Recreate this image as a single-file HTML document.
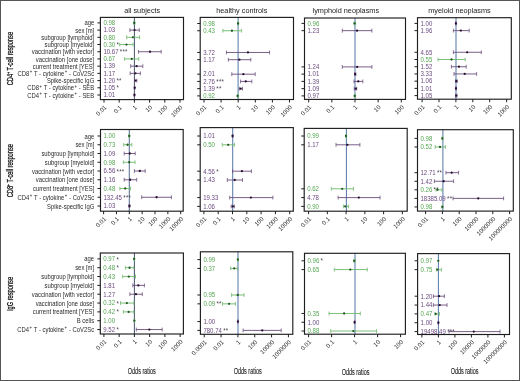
<!DOCTYPE html>
<html><head><meta charset="utf-8"><style>
html,body{margin:0;padding:0;background:#fff;width:520px;height:381px;overflow:hidden}
svg{display:block;will-change:transform}
text{font-family:"Liberation Sans",sans-serif}
</style></head><body>

<svg width="520" height="381" viewBox="0 0 520 381" font-family='"Liberation Sans", sans-serif'>
<rect x="0" y="0" width="520" height="381" fill="#fff"/>
<text x="142.2" y="12.6" font-size="7.3" text-anchor="middle" fill="#222">all subjects</text>
<text x="241.8" y="12.6" font-size="7.3" text-anchor="middle" fill="#222">healthy controls</text>
<text x="345.8" y="12.6" font-size="7.3" text-anchor="middle" fill="#222">lymphoid neoplasms</text>
<text x="459.5" y="12.6" font-size="7.3" text-anchor="middle" fill="#222">myeloid neoplasms</text>
<g transform="translate(12.7,58.6) rotate(-90) scale(0.686,1)"><text x="0" y="0" font-size="8.3" text-anchor="middle" fill="#111" stroke="#111" stroke-width="0.28">CD4<tspan dy="-2.6" font-size="4.6">+</tspan><tspan dy="2.6"> T-cell response</tspan></text></g>
<g transform="translate(12.7,170.7) rotate(-90) scale(0.686,1)"><text x="0" y="0" font-size="8.3" text-anchor="middle" fill="#111" stroke="#111" stroke-width="0.28">CD8<tspan dy="-2.6" font-size="4.6">+</tspan><tspan dy="2.6"> T-cell response</tspan></text></g>
<g transform="translate(12.7,294.0) rotate(-90) scale(0.686,1)"><text x="0" y="0" font-size="8.3" text-anchor="middle" fill="#111" stroke="#111" stroke-width="0.28">IgG response</text></g>
<g transform="translate(141.8,374.3) scale(0.66,1)"><text x="0" y="0" font-size="8.3" text-anchor="middle" fill="#222" stroke="#222" stroke-width="0.12">Odds ratios</text></g>
<g transform="translate(247.7,374.3) scale(0.66,1)"><text x="0" y="0" font-size="8.3" text-anchor="middle" fill="#222" stroke="#222" stroke-width="0.12">Odds ratios</text></g>
<g transform="translate(355.6,375.2) scale(0.66,1)"><text x="0" y="0" font-size="8.3" text-anchor="middle" fill="#222" stroke="#222" stroke-width="0.12">Odds ratios</text></g>
<g transform="translate(464.6,374.3) scale(0.66,1)"><text x="0" y="0" font-size="8.3" text-anchor="middle" fill="#222" stroke="#222" stroke-width="0.12">Odds ratios</text></g>
<line x1="134.4" y1="17.4" x2="134.4" y2="99.6" stroke="#44546c" stroke-width="1.0"/>
<line x1="97.4" y1="22.90" x2="100.4" y2="22.90" stroke="#1e1e1e" stroke-width="1"/>
<g transform="translate(103.40,25.20) scale(0.955,1)"><text x="0" y="0" font-size="6.35" fill="#55a652">0.98</text></g>
<line x1="133.6" y1="22.90" x2="134.8" y2="22.90" stroke="#6cb86a" stroke-width="0.9"/>
<line x1="133.6" y1="21.00" x2="133.6" y2="24.80" stroke="#6cb86a" stroke-width="0.8"/>
<line x1="134.8" y1="21.00" x2="134.8" y2="24.80" stroke="#6cb86a" stroke-width="0.8"/>
<circle cx="134.27" cy="22.90" r="1.15" fill="#245a24"/>
<line x1="97.4" y1="30.11" x2="100.4" y2="30.11" stroke="#1e1e1e" stroke-width="1"/>
<g transform="translate(103.40,32.41) scale(0.955,1)"><text x="0" y="0" font-size="6.35" fill="#6c4a80">1.03</text></g>
<line x1="129.9" y1="30.11" x2="139.3" y2="30.11" stroke="#6a4e7a" stroke-width="0.9"/>
<line x1="129.9" y1="28.21" x2="129.9" y2="32.01" stroke="#6a4e7a" stroke-width="0.8"/>
<line x1="139.3" y1="28.21" x2="139.3" y2="32.01" stroke="#6a4e7a" stroke-width="0.8"/>
<circle cx="134.60" cy="30.11" r="1.15" fill="#2a1030"/>
<line x1="97.4" y1="37.32" x2="100.4" y2="37.32" stroke="#1e1e1e" stroke-width="1"/>
<g transform="translate(103.40,39.62) scale(0.955,1)"><text x="0" y="0" font-size="6.35" fill="#55a652">0.80</text></g>
<line x1="126.7" y1="37.32" x2="139.6" y2="37.32" stroke="#6cb86a" stroke-width="0.9"/>
<line x1="126.7" y1="35.42" x2="126.7" y2="39.22" stroke="#6cb86a" stroke-width="0.8"/>
<line x1="139.6" y1="35.42" x2="139.6" y2="39.22" stroke="#6cb86a" stroke-width="0.8"/>
<circle cx="132.93" cy="37.32" r="1.15" fill="#245a24"/>
<line x1="97.4" y1="44.53" x2="100.4" y2="44.53" stroke="#1e1e1e" stroke-width="1"/>
<g transform="translate(103.40,46.83) scale(0.955,1)"><text x="0" y="0" font-size="6.35" fill="#55a652">0.30<tspan font-size="6.4" dx="1.4" dy="0.3" letter-spacing="0.25" fill="#4a4050">*</tspan></text></g>
<line x1="119.7" y1="44.53" x2="133.1" y2="44.53" stroke="#6cb86a" stroke-width="0.9"/>
<line x1="119.7" y1="42.63" x2="119.7" y2="46.43" stroke="#6cb86a" stroke-width="0.8"/>
<line x1="133.1" y1="42.63" x2="133.1" y2="46.43" stroke="#6cb86a" stroke-width="0.8"/>
<circle cx="126.45" cy="44.53" r="1.15" fill="#245a24"/>
<line x1="97.4" y1="51.74" x2="100.4" y2="51.74" stroke="#1e1e1e" stroke-width="1"/>
<g transform="translate(103.40,54.04) scale(0.955,1)"><text x="0" y="0" font-size="6.35" fill="#6c4a80">10.67<tspan font-size="6.4" dx="1.4" dy="0.3" letter-spacing="0.25" fill="#4a4050">***</tspan></text></g>
<line x1="138.5" y1="51.74" x2="161.2" y2="51.74" stroke="#6a4e7a" stroke-width="0.9"/>
<line x1="138.5" y1="49.84" x2="138.5" y2="53.64" stroke="#6a4e7a" stroke-width="0.8"/>
<line x1="161.2" y1="49.84" x2="161.2" y2="53.64" stroke="#6a4e7a" stroke-width="0.8"/>
<circle cx="150.03" cy="51.74" r="1.15" fill="#2a1030"/>
<line x1="97.4" y1="58.95" x2="100.4" y2="58.95" stroke="#1e1e1e" stroke-width="1"/>
<g transform="translate(103.40,61.25) scale(0.955,1)"><text x="0" y="0" font-size="6.35" fill="#55a652">0.67</text></g>
<line x1="124.6" y1="58.95" x2="138.8" y2="58.95" stroke="#6cb86a" stroke-width="0.9"/>
<line x1="124.6" y1="57.05" x2="124.6" y2="60.85" stroke="#6cb86a" stroke-width="0.8"/>
<line x1="138.8" y1="57.05" x2="138.8" y2="60.85" stroke="#6cb86a" stroke-width="0.8"/>
<circle cx="131.76" cy="58.95" r="1.15" fill="#245a24"/>
<line x1="97.4" y1="66.16" x2="100.4" y2="66.16" stroke="#1e1e1e" stroke-width="1"/>
<g transform="translate(103.40,68.46) scale(0.955,1)"><text x="0" y="0" font-size="6.35" fill="#6c4a80">1.39</text></g>
<line x1="130.7" y1="66.16" x2="142.8" y2="66.16" stroke="#6a4e7a" stroke-width="0.9"/>
<line x1="130.7" y1="64.26" x2="130.7" y2="68.06" stroke="#6a4e7a" stroke-width="0.8"/>
<line x1="142.8" y1="64.26" x2="142.8" y2="68.06" stroke="#6a4e7a" stroke-width="0.8"/>
<circle cx="136.57" cy="66.16" r="1.15" fill="#2a1030"/>
<line x1="97.4" y1="73.37" x2="100.4" y2="73.37" stroke="#1e1e1e" stroke-width="1"/>
<g transform="translate(103.40,75.67) scale(0.955,1)"><text x="0" y="0" font-size="6.35" fill="#6c4a80">1.17</text></g>
<line x1="130.2" y1="73.37" x2="140.4" y2="73.37" stroke="#6a4e7a" stroke-width="0.9"/>
<line x1="130.2" y1="71.47" x2="130.2" y2="75.27" stroke="#6a4e7a" stroke-width="0.8"/>
<line x1="140.4" y1="71.47" x2="140.4" y2="75.27" stroke="#6a4e7a" stroke-width="0.8"/>
<circle cx="135.44" cy="73.37" r="1.15" fill="#2a1030"/>
<line x1="97.4" y1="80.58" x2="100.4" y2="80.58" stroke="#1e1e1e" stroke-width="1"/>
<g transform="translate(103.40,82.88) scale(0.955,1)"><text x="0" y="0" font-size="6.35" fill="#6c4a80">1.20<tspan font-size="6.4" dx="1.4" dy="0.3" letter-spacing="0.25" fill="#4a4050">**</tspan></text></g>
<line x1="134.7" y1="80.58" x2="136.8" y2="80.58" stroke="#6a4e7a" stroke-width="0.9"/>
<line x1="134.7" y1="78.68" x2="134.7" y2="82.48" stroke="#6a4e7a" stroke-width="0.8"/>
<line x1="136.8" y1="78.68" x2="136.8" y2="82.48" stroke="#6a4e7a" stroke-width="0.8"/>
<circle cx="135.60" cy="80.58" r="1.15" fill="#2a1030"/>
<line x1="97.4" y1="87.79" x2="100.4" y2="87.79" stroke="#1e1e1e" stroke-width="1"/>
<g transform="translate(103.40,90.09) scale(0.955,1)"><text x="0" y="0" font-size="6.35" fill="#6c4a80">1.05<tspan font-size="6.4" dx="1.4" dy="0.3" letter-spacing="0.25" fill="#4a4050">*</tspan></text></g>
<line x1="134.3" y1="87.79" x2="135.0" y2="87.79" stroke="#6a4e7a" stroke-width="0.9"/>
<line x1="134.3" y1="85.89" x2="134.3" y2="89.69" stroke="#6a4e7a" stroke-width="0.8"/>
<line x1="135.0" y1="85.89" x2="135.0" y2="89.69" stroke="#6a4e7a" stroke-width="0.8"/>
<circle cx="134.72" cy="87.79" r="1.15" fill="#2a1030"/>
<line x1="97.4" y1="95.00" x2="100.4" y2="95.00" stroke="#1e1e1e" stroke-width="1"/>
<g transform="translate(103.40,97.30) scale(0.955,1)"><text x="0" y="0" font-size="6.35" fill="#6c4a80">1.01</text></g>
<line x1="134.2" y1="95.00" x2="134.7" y2="95.00" stroke="#6a4e7a" stroke-width="0.9"/>
<line x1="134.2" y1="93.10" x2="134.2" y2="96.90" stroke="#6a4e7a" stroke-width="0.8"/>
<line x1="134.7" y1="93.10" x2="134.7" y2="96.90" stroke="#6a4e7a" stroke-width="0.8"/>
<circle cx="134.47" cy="95.00" r="1.15" fill="#2a1030"/>
<g transform="translate(94.20,25.45) scale(0.935,1)"><text x="0" y="0" font-size="6.3" text-anchor="end" fill="#2a2a2a">age</text></g>
<g transform="translate(94.20,32.66) scale(0.935,1)"><text x="0" y="0" font-size="6.3" text-anchor="end" fill="#2a2a2a">sex [m]</text></g>
<g transform="translate(94.20,39.87) scale(0.935,1)"><text x="0" y="0" font-size="6.3" text-anchor="end" fill="#2a2a2a">subgroup [lymphoid]</text></g>
<g transform="translate(94.20,47.08) scale(0.935,1)"><text x="0" y="0" font-size="6.3" text-anchor="end" fill="#2a2a2a">subgroup [myeloid]</text></g>
<g transform="translate(94.20,54.29) scale(0.935,1)"><text x="0" y="0" font-size="6.3" text-anchor="end" fill="#2a2a2a">vaccination [with vector]</text></g>
<g transform="translate(94.20,61.50) scale(0.935,1)"><text x="0" y="0" font-size="6.3" text-anchor="end" fill="#2a2a2a">vaccination [one dose]</text></g>
<g transform="translate(94.20,68.71) scale(0.935,1)"><text x="0" y="0" font-size="6.3" text-anchor="end" fill="#2a2a2a">current treatment [YES]</text></g>
<g transform="translate(94.20,75.92) scale(0.935,1)"><text x="0" y="0" font-size="6.3" text-anchor="end" fill="#2a2a2a">CD8<tspan dx="0.5" dy="-2.7" font-size="4.6">+</tspan><tspan dx="0.3" dy="2.7"> T - cytokine</tspan><tspan dx="0.5" dy="-2.7" font-size="4.6">+</tspan><tspan dx="0.3" dy="2.7"> - CoV2Sc</tspan></text></g>
<g transform="translate(94.20,83.13) scale(0.935,1)"><text x="0" y="0" font-size="6.3" text-anchor="end" fill="#2a2a2a">Spike-specific IgG</text></g>
<g transform="translate(94.20,90.34) scale(0.935,1)"><text x="0" y="0" font-size="6.3" text-anchor="end" fill="#2a2a2a">CD8<tspan dx="0.5" dy="-2.7" font-size="4.6">+</tspan><tspan dx="0.3" dy="2.7"> T - cytokine</tspan><tspan dx="0.5" dy="-2.7" font-size="4.6">+</tspan><tspan dx="0.3" dy="2.7"> - SEB</tspan></text></g>
<g transform="translate(94.20,97.55) scale(0.935,1)"><text x="0" y="0" font-size="6.3" text-anchor="end" fill="#2a2a2a">CD4<tspan dx="0.5" dy="-2.7" font-size="4.6">+</tspan><tspan dx="0.3" dy="2.7"> T - cytokine</tspan><tspan dx="0.5" dy="-2.7" font-size="4.6">+</tspan><tspan dx="0.3" dy="2.7"> - SEB</tspan></text></g>
<line x1="104.00" y1="99.6" x2="104.00" y2="102.6" stroke="#1e1e1e" stroke-width="1"/>
<g transform="translate(107.00,107.80) rotate(-45)"><text x="0" y="0" font-size="6.1" text-anchor="end" fill="#262626">0.01</text></g>
<line x1="119.20" y1="99.6" x2="119.20" y2="102.6" stroke="#1e1e1e" stroke-width="1"/>
<g transform="translate(122.20,107.80) rotate(-45)"><text x="0" y="0" font-size="6.1" text-anchor="end" fill="#262626">0.1</text></g>
<line x1="134.40" y1="99.6" x2="134.40" y2="102.6" stroke="#1e1e1e" stroke-width="1"/>
<g transform="translate(137.40,107.80) rotate(-45)"><text x="0" y="0" font-size="6.1" text-anchor="end" fill="#262626">1</text></g>
<line x1="149.60" y1="99.6" x2="149.60" y2="102.6" stroke="#1e1e1e" stroke-width="1"/>
<g transform="translate(152.60,107.80) rotate(-45)"><text x="0" y="0" font-size="6.1" text-anchor="end" fill="#262626">10</text></g>
<line x1="164.80" y1="99.6" x2="164.80" y2="102.6" stroke="#1e1e1e" stroke-width="1"/>
<g transform="translate(167.80,107.80) rotate(-45)"><text x="0" y="0" font-size="6.1" text-anchor="end" fill="#262626">100</text></g>
<line x1="180.00" y1="99.6" x2="180.00" y2="102.6" stroke="#1e1e1e" stroke-width="1"/>
<g transform="translate(183.00,107.80) rotate(-45)"><text x="0" y="0" font-size="6.1" text-anchor="end" fill="#262626">1000</text></g>
<rect x="100.4" y="17.4" width="83.10" height="82.20" fill="none" stroke="#1e1e1e" stroke-width="1.15"/>
<line x1="238.1" y1="17.4" x2="238.1" y2="99.5" stroke="#5a7cab" stroke-width="1.05"/>
<line x1="197.2" y1="23.50" x2="200.2" y2="23.50" stroke="#1e1e1e" stroke-width="1"/>
<g transform="translate(203.20,25.80) scale(0.955,1)"><text x="0" y="0" font-size="6.35" fill="#55a652">0.98</text></g>
<line x1="237.6" y1="23.50" x2="238.6" y2="23.50" stroke="#6cb86a" stroke-width="0.9"/>
<line x1="237.6" y1="21.60" x2="237.6" y2="25.40" stroke="#6cb86a" stroke-width="0.8"/>
<line x1="238.6" y1="21.60" x2="238.6" y2="25.40" stroke="#6cb86a" stroke-width="0.8"/>
<circle cx="238.05" cy="23.50" r="1.15" fill="#245a24"/>
<line x1="197.2" y1="30.74" x2="200.2" y2="30.74" stroke="#1e1e1e" stroke-width="1"/>
<g transform="translate(203.20,33.04) scale(0.955,1)"><text x="0" y="0" font-size="6.35" fill="#55a652">0.43</text></g>
<line x1="222.9" y1="30.74" x2="241.6" y2="30.74" stroke="#6cb86a" stroke-width="0.9"/>
<line x1="222.9" y1="28.84" x2="222.9" y2="32.64" stroke="#6cb86a" stroke-width="0.8"/>
<line x1="241.6" y1="28.84" x2="241.6" y2="32.64" stroke="#6cb86a" stroke-width="0.8"/>
<circle cx="231.93" cy="30.74" r="1.15" fill="#245a24"/>
<line x1="197.2" y1="52.46" x2="200.2" y2="52.46" stroke="#1e1e1e" stroke-width="1"/>
<g transform="translate(203.20,54.76) scale(0.955,1)"><text x="0" y="0" font-size="6.35" fill="#6c4a80">3.72</text></g>
<line x1="226.4" y1="52.46" x2="269.5" y2="52.46" stroke="#6a4e7a" stroke-width="0.9"/>
<line x1="226.4" y1="50.56" x2="226.4" y2="54.36" stroke="#6a4e7a" stroke-width="0.8"/>
<line x1="269.5" y1="50.56" x2="269.5" y2="54.36" stroke="#6a4e7a" stroke-width="0.8"/>
<circle cx="247.96" cy="52.46" r="1.15" fill="#2a1030"/>
<line x1="197.2" y1="59.70" x2="200.2" y2="59.70" stroke="#1e1e1e" stroke-width="1"/>
<g transform="translate(203.20,62.00) scale(0.955,1)"><text x="0" y="0" font-size="6.35" fill="#6c4a80">1.17</text></g>
<line x1="228.3" y1="59.70" x2="250.8" y2="59.70" stroke="#6a4e7a" stroke-width="0.9"/>
<line x1="228.3" y1="57.80" x2="228.3" y2="61.60" stroke="#6a4e7a" stroke-width="0.8"/>
<line x1="250.8" y1="57.80" x2="250.8" y2="61.60" stroke="#6a4e7a" stroke-width="0.8"/>
<circle cx="239.37" cy="59.70" r="1.15" fill="#2a1030"/>
<line x1="197.2" y1="74.18" x2="200.2" y2="74.18" stroke="#1e1e1e" stroke-width="1"/>
<g transform="translate(203.20,76.48) scale(0.955,1)"><text x="0" y="0" font-size="6.35" fill="#6c4a80">2.01</text></g>
<line x1="231.8" y1="74.18" x2="255.2" y2="74.18" stroke="#6a4e7a" stroke-width="0.9"/>
<line x1="231.8" y1="72.28" x2="231.8" y2="76.08" stroke="#6a4e7a" stroke-width="0.8"/>
<line x1="255.2" y1="72.28" x2="255.2" y2="76.08" stroke="#6a4e7a" stroke-width="0.8"/>
<circle cx="243.38" cy="74.18" r="1.15" fill="#2a1030"/>
<line x1="197.2" y1="81.42" x2="200.2" y2="81.42" stroke="#1e1e1e" stroke-width="1"/>
<g transform="translate(203.20,83.72) scale(0.955,1)"><text x="0" y="0" font-size="6.35" fill="#6c4a80">2.76<tspan font-size="6.4" dx="1.4" dy="0.3" letter-spacing="0.25" fill="#4a4050">***</tspan></text></g>
<line x1="240.6" y1="81.42" x2="251.8" y2="81.42" stroke="#6a4e7a" stroke-width="0.9"/>
<line x1="240.6" y1="79.52" x2="240.6" y2="83.32" stroke="#6a4e7a" stroke-width="0.8"/>
<line x1="251.8" y1="79.52" x2="251.8" y2="83.32" stroke="#6a4e7a" stroke-width="0.8"/>
<circle cx="245.74" cy="81.42" r="1.15" fill="#2a1030"/>
<line x1="197.2" y1="88.66" x2="200.2" y2="88.66" stroke="#1e1e1e" stroke-width="1"/>
<g transform="translate(203.20,90.96) scale(0.955,1)"><text x="0" y="0" font-size="6.35" fill="#6c4a80">1.39<tspan font-size="6.4" dx="1.4" dy="0.3" letter-spacing="0.25" fill="#4a4050">**</tspan></text></g>
<line x1="239.3" y1="88.66" x2="242.5" y2="88.66" stroke="#6a4e7a" stroke-width="0.9"/>
<line x1="239.3" y1="86.76" x2="239.3" y2="90.56" stroke="#6a4e7a" stroke-width="0.8"/>
<line x1="242.5" y1="86.76" x2="242.5" y2="90.56" stroke="#6a4e7a" stroke-width="0.8"/>
<circle cx="240.65" cy="88.66" r="1.15" fill="#2a1030"/>
<line x1="197.2" y1="95.90" x2="200.2" y2="95.90" stroke="#1e1e1e" stroke-width="1"/>
<g transform="translate(203.20,98.20) scale(0.955,1)"><text x="0" y="0" font-size="6.35" fill="#55a652">0.92</text></g>
<line x1="237.4" y1="95.90" x2="238.3" y2="95.90" stroke="#6cb86a" stroke-width="0.9"/>
<line x1="237.4" y1="94.00" x2="237.4" y2="97.80" stroke="#6cb86a" stroke-width="0.8"/>
<line x1="238.3" y1="94.00" x2="238.3" y2="97.80" stroke="#6cb86a" stroke-width="0.8"/>
<circle cx="237.58" cy="95.90" r="1.15" fill="#245a24"/>
<line x1="204.00" y1="99.5" x2="204.00" y2="102.5" stroke="#1e1e1e" stroke-width="1"/>
<g transform="translate(207.00,107.70) rotate(-45)"><text x="0" y="0" font-size="6.1" text-anchor="end" fill="#262626">0.01</text></g>
<line x1="221.10" y1="99.5" x2="221.10" y2="102.5" stroke="#1e1e1e" stroke-width="1"/>
<g transform="translate(224.10,107.70) rotate(-45)"><text x="0" y="0" font-size="6.1" text-anchor="end" fill="#262626">0.1</text></g>
<line x1="238.20" y1="99.5" x2="238.20" y2="102.5" stroke="#1e1e1e" stroke-width="1"/>
<g transform="translate(241.20,107.70) rotate(-45)"><text x="0" y="0" font-size="6.1" text-anchor="end" fill="#262626">1</text></g>
<line x1="255.30" y1="99.5" x2="255.30" y2="102.5" stroke="#1e1e1e" stroke-width="1"/>
<g transform="translate(258.30,107.70) rotate(-45)"><text x="0" y="0" font-size="6.1" text-anchor="end" fill="#262626">10</text></g>
<line x1="272.40" y1="99.5" x2="272.40" y2="102.5" stroke="#1e1e1e" stroke-width="1"/>
<g transform="translate(275.40,107.70) rotate(-45)"><text x="0" y="0" font-size="6.1" text-anchor="end" fill="#262626">100</text></g>
<line x1="289.50" y1="99.5" x2="289.50" y2="102.5" stroke="#1e1e1e" stroke-width="1"/>
<g transform="translate(292.50,107.70) rotate(-45)"><text x="0" y="0" font-size="6.1" text-anchor="end" fill="#262626">1000</text></g>
<rect x="200.2" y="17.4" width="93.30" height="82.10" fill="none" stroke="#1e1e1e" stroke-width="1.15"/>
<line x1="355.0" y1="18.0" x2="355.0" y2="99.4" stroke="#5a7cab" stroke-width="1.05"/>
<line x1="301.5" y1="23.40" x2="304.5" y2="23.40" stroke="#1e1e1e" stroke-width="1"/>
<g transform="translate(307.50,25.70) scale(0.955,1)"><text x="0" y="0" font-size="6.35" fill="#55a652">0.96</text></g>
<line x1="354.0" y1="23.40" x2="355.6" y2="23.40" stroke="#6cb86a" stroke-width="0.9"/>
<line x1="354.0" y1="21.50" x2="354.0" y2="25.30" stroke="#6cb86a" stroke-width="0.8"/>
<line x1="355.6" y1="21.50" x2="355.6" y2="25.30" stroke="#6cb86a" stroke-width="0.8"/>
<circle cx="354.59" cy="23.40" r="1.15" fill="#245a24"/>
<line x1="301.5" y1="30.65" x2="304.5" y2="30.65" stroke="#1e1e1e" stroke-width="1"/>
<g transform="translate(307.50,32.95) scale(0.955,1)"><text x="0" y="0" font-size="6.35" fill="#6c4a80">1.23</text></g>
<line x1="342.3" y1="30.65" x2="371.9" y2="30.65" stroke="#6a4e7a" stroke-width="0.9"/>
<line x1="342.3" y1="28.75" x2="342.3" y2="32.55" stroke="#6a4e7a" stroke-width="0.8"/>
<line x1="371.9" y1="28.75" x2="371.9" y2="32.55" stroke="#6a4e7a" stroke-width="0.8"/>
<circle cx="357.08" cy="30.65" r="1.15" fill="#2a1030"/>
<line x1="301.5" y1="66.90" x2="304.5" y2="66.90" stroke="#1e1e1e" stroke-width="1"/>
<g transform="translate(307.50,69.20) scale(0.955,1)"><text x="0" y="0" font-size="6.35" fill="#6c4a80">1.24</text></g>
<line x1="342.3" y1="66.90" x2="371.9" y2="66.90" stroke="#6a4e7a" stroke-width="0.9"/>
<line x1="342.3" y1="65.00" x2="342.3" y2="68.80" stroke="#6a4e7a" stroke-width="0.8"/>
<line x1="371.9" y1="65.00" x2="371.9" y2="68.80" stroke="#6a4e7a" stroke-width="0.8"/>
<circle cx="357.16" cy="66.90" r="1.15" fill="#2a1030"/>
<line x1="301.5" y1="74.15" x2="304.5" y2="74.15" stroke="#1e1e1e" stroke-width="1"/>
<g transform="translate(307.50,76.45) scale(0.955,1)"><text x="0" y="0" font-size="6.35" fill="#6c4a80">1.01</text></g>
<line x1="354.6" y1="74.15" x2="355.8" y2="74.15" stroke="#6a4e7a" stroke-width="0.9"/>
<line x1="354.6" y1="72.25" x2="354.6" y2="76.05" stroke="#6a4e7a" stroke-width="0.8"/>
<line x1="355.8" y1="72.25" x2="355.8" y2="76.05" stroke="#6a4e7a" stroke-width="0.8"/>
<circle cx="355.10" cy="74.15" r="1.15" fill="#2a1030"/>
<line x1="301.5" y1="81.40" x2="304.5" y2="81.40" stroke="#1e1e1e" stroke-width="1"/>
<g transform="translate(307.50,83.70) scale(0.955,1)"><text x="0" y="0" font-size="6.35" fill="#6c4a80">1.39</text></g>
<line x1="354.0" y1="81.40" x2="362.8" y2="81.40" stroke="#6a4e7a" stroke-width="0.9"/>
<line x1="354.0" y1="79.50" x2="354.0" y2="83.30" stroke="#6a4e7a" stroke-width="0.8"/>
<line x1="362.8" y1="79.50" x2="362.8" y2="83.30" stroke="#6a4e7a" stroke-width="0.8"/>
<circle cx="358.31" cy="81.40" r="1.15" fill="#2a1030"/>
<line x1="301.5" y1="88.65" x2="304.5" y2="88.65" stroke="#1e1e1e" stroke-width="1"/>
<g transform="translate(307.50,90.95) scale(0.955,1)"><text x="0" y="0" font-size="6.35" fill="#6c4a80">1.09</text></g>
<line x1="354.3" y1="88.65" x2="356.7" y2="88.65" stroke="#6a4e7a" stroke-width="0.9"/>
<line x1="354.3" y1="86.75" x2="354.3" y2="90.55" stroke="#6a4e7a" stroke-width="0.8"/>
<line x1="356.7" y1="86.75" x2="356.7" y2="90.55" stroke="#6a4e7a" stroke-width="0.8"/>
<circle cx="355.87" cy="88.65" r="1.15" fill="#2a1030"/>
<line x1="301.5" y1="95.90" x2="304.5" y2="95.90" stroke="#1e1e1e" stroke-width="1"/>
<g transform="translate(307.50,98.20) scale(0.955,1)"><text x="0" y="0" font-size="6.35" fill="#6c4a80">0.97</text></g>
<line x1="354.4" y1="95.90" x2="355.6" y2="95.90" stroke="#6cb86a" stroke-width="0.9"/>
<line x1="354.4" y1="94.00" x2="354.4" y2="97.80" stroke="#6cb86a" stroke-width="0.8"/>
<line x1="355.6" y1="94.00" x2="355.6" y2="97.80" stroke="#6cb86a" stroke-width="0.8"/>
<circle cx="354.69" cy="95.90" r="1.15" fill="#245a24"/>
<line x1="308.70" y1="99.4" x2="308.70" y2="102.4" stroke="#1e1e1e" stroke-width="1"/>
<g transform="translate(311.70,107.60) rotate(-45)"><text x="0" y="0" font-size="6.1" text-anchor="end" fill="#262626">0.01</text></g>
<line x1="331.85" y1="99.4" x2="331.85" y2="102.4" stroke="#1e1e1e" stroke-width="1"/>
<g transform="translate(334.85,107.60) rotate(-45)"><text x="0" y="0" font-size="6.1" text-anchor="end" fill="#262626">0.1</text></g>
<line x1="355.00" y1="99.4" x2="355.00" y2="102.4" stroke="#1e1e1e" stroke-width="1"/>
<g transform="translate(358.00,107.60) rotate(-45)"><text x="0" y="0" font-size="6.1" text-anchor="end" fill="#262626">1</text></g>
<line x1="378.15" y1="99.4" x2="378.15" y2="102.4" stroke="#1e1e1e" stroke-width="1"/>
<g transform="translate(381.15,107.60) rotate(-45)"><text x="0" y="0" font-size="6.1" text-anchor="end" fill="#262626">10</text></g>
<line x1="401.30" y1="99.4" x2="401.30" y2="102.4" stroke="#1e1e1e" stroke-width="1"/>
<g transform="translate(404.30,107.60) rotate(-45)"><text x="0" y="0" font-size="6.1" text-anchor="end" fill="#262626">100</text></g>
<rect x="304.5" y="18.0" width="101.00" height="81.40" fill="none" stroke="#1e1e1e" stroke-width="1.15"/>
<line x1="456.0" y1="17.7" x2="456.0" y2="99.2" stroke="#5a7cab" stroke-width="1.05"/>
<line x1="414.5" y1="23.40" x2="417.5" y2="23.40" stroke="#1e1e1e" stroke-width="1"/>
<g transform="translate(420.50,25.70) scale(0.955,1)"><text x="0" y="0" font-size="6.35" fill="#6c4a80">1.00</text></g>
<line x1="455.6" y1="23.40" x2="456.2" y2="23.40" stroke="#6a4e7a" stroke-width="0.9"/>
<line x1="455.6" y1="21.50" x2="455.6" y2="25.30" stroke="#6a4e7a" stroke-width="0.8"/>
<line x1="456.2" y1="21.50" x2="456.2" y2="25.30" stroke="#6a4e7a" stroke-width="0.8"/>
<circle cx="455.90" cy="23.40" r="1.15" fill="#2a1030"/>
<line x1="414.5" y1="30.62" x2="417.5" y2="30.62" stroke="#1e1e1e" stroke-width="1"/>
<g transform="translate(420.50,32.92) scale(0.955,1)"><text x="0" y="0" font-size="6.35" fill="#6c4a80">1.96</text></g>
<line x1="453.4" y1="30.62" x2="469.2" y2="30.62" stroke="#6a4e7a" stroke-width="0.9"/>
<line x1="453.4" y1="28.72" x2="453.4" y2="32.52" stroke="#6a4e7a" stroke-width="0.8"/>
<line x1="469.2" y1="28.72" x2="469.2" y2="32.52" stroke="#6a4e7a" stroke-width="0.8"/>
<circle cx="460.84" cy="30.62" r="1.15" fill="#2a1030"/>
<line x1="414.5" y1="52.28" x2="417.5" y2="52.28" stroke="#1e1e1e" stroke-width="1"/>
<g transform="translate(420.50,54.58) scale(0.955,1)"><text x="0" y="0" font-size="6.35" fill="#6c4a80">4.65</text></g>
<line x1="453.4" y1="52.28" x2="481.3" y2="52.28" stroke="#6a4e7a" stroke-width="0.9"/>
<line x1="453.4" y1="50.38" x2="453.4" y2="54.18" stroke="#6a4e7a" stroke-width="0.8"/>
<line x1="481.3" y1="50.38" x2="481.3" y2="54.18" stroke="#6a4e7a" stroke-width="0.8"/>
<circle cx="467.18" cy="52.28" r="1.15" fill="#2a1030"/>
<line x1="414.5" y1="59.50" x2="417.5" y2="59.50" stroke="#1e1e1e" stroke-width="1"/>
<g transform="translate(420.50,61.80) scale(0.955,1)"><text x="0" y="0" font-size="6.35" fill="#55a652">0.55</text></g>
<line x1="438.0" y1="59.50" x2="465.2" y2="59.50" stroke="#6cb86a" stroke-width="0.9"/>
<line x1="438.0" y1="57.60" x2="438.0" y2="61.40" stroke="#6cb86a" stroke-width="0.8"/>
<line x1="465.2" y1="57.60" x2="465.2" y2="61.40" stroke="#6cb86a" stroke-width="0.8"/>
<circle cx="451.51" cy="59.50" r="1.15" fill="#245a24"/>
<line x1="414.5" y1="66.72" x2="417.5" y2="66.72" stroke="#1e1e1e" stroke-width="1"/>
<g transform="translate(420.50,69.02) scale(0.955,1)"><text x="0" y="0" font-size="6.35" fill="#6c4a80">1.52</text></g>
<line x1="451.4" y1="66.72" x2="466.2" y2="66.72" stroke="#6a4e7a" stroke-width="0.9"/>
<line x1="451.4" y1="64.82" x2="451.4" y2="68.62" stroke="#6a4e7a" stroke-width="0.8"/>
<line x1="466.2" y1="64.82" x2="466.2" y2="68.62" stroke="#6a4e7a" stroke-width="0.8"/>
<circle cx="458.97" cy="66.72" r="1.15" fill="#2a1030"/>
<line x1="414.5" y1="73.94" x2="417.5" y2="73.94" stroke="#1e1e1e" stroke-width="1"/>
<g transform="translate(420.50,76.24) scale(0.955,1)"><text x="0" y="0" font-size="6.35" fill="#6c4a80">3.33</text></g>
<line x1="454.0" y1="73.94" x2="476.6" y2="73.94" stroke="#6a4e7a" stroke-width="0.9"/>
<line x1="454.0" y1="72.04" x2="454.0" y2="75.84" stroke="#6a4e7a" stroke-width="0.8"/>
<line x1="476.6" y1="72.04" x2="476.6" y2="75.84" stroke="#6a4e7a" stroke-width="0.8"/>
<circle cx="464.73" cy="73.94" r="1.15" fill="#2a1030"/>
<line x1="414.5" y1="81.16" x2="417.5" y2="81.16" stroke="#1e1e1e" stroke-width="1"/>
<g transform="translate(420.50,83.46) scale(0.955,1)"><text x="0" y="0" font-size="6.35" fill="#6c4a80">1.06</text></g>
<line x1="455.6" y1="81.16" x2="457.2" y2="81.16" stroke="#6a4e7a" stroke-width="0.9"/>
<line x1="455.6" y1="79.26" x2="455.6" y2="83.06" stroke="#6a4e7a" stroke-width="0.8"/>
<line x1="457.2" y1="79.26" x2="457.2" y2="83.06" stroke="#6a4e7a" stroke-width="0.8"/>
<circle cx="456.33" cy="81.16" r="1.15" fill="#2a1030"/>
<line x1="414.5" y1="88.38" x2="417.5" y2="88.38" stroke="#1e1e1e" stroke-width="1"/>
<g transform="translate(420.50,90.68) scale(0.955,1)"><text x="0" y="0" font-size="6.35" fill="#6c4a80">1.01</text></g>
<line x1="455.6" y1="88.38" x2="456.4" y2="88.38" stroke="#6a4e7a" stroke-width="0.9"/>
<line x1="455.6" y1="86.48" x2="455.6" y2="90.28" stroke="#6a4e7a" stroke-width="0.8"/>
<line x1="456.4" y1="86.48" x2="456.4" y2="90.28" stroke="#6a4e7a" stroke-width="0.8"/>
<circle cx="455.97" cy="88.38" r="1.15" fill="#2a1030"/>
<line x1="414.5" y1="95.60" x2="417.5" y2="95.60" stroke="#1e1e1e" stroke-width="1"/>
<g transform="translate(420.50,97.90) scale(0.955,1)"><text x="0" y="0" font-size="6.35" fill="#6c4a80">1.05</text></g>
<line x1="455.5" y1="95.60" x2="457.0" y2="95.60" stroke="#6a4e7a" stroke-width="0.9"/>
<line x1="455.5" y1="93.70" x2="455.5" y2="97.50" stroke="#6a4e7a" stroke-width="0.8"/>
<line x1="457.0" y1="93.70" x2="457.0" y2="97.50" stroke="#6a4e7a" stroke-width="0.8"/>
<circle cx="456.26" cy="95.60" r="1.15" fill="#2a1030"/>
<line x1="422.10" y1="99.2" x2="422.10" y2="102.2" stroke="#1e1e1e" stroke-width="1"/>
<g transform="translate(425.10,107.40) rotate(-45)"><text x="0" y="0" font-size="6.1" text-anchor="end" fill="#262626">0.01</text></g>
<line x1="439.00" y1="99.2" x2="439.00" y2="102.2" stroke="#1e1e1e" stroke-width="1"/>
<g transform="translate(442.00,107.40) rotate(-45)"><text x="0" y="0" font-size="6.1" text-anchor="end" fill="#262626">0.1</text></g>
<line x1="455.90" y1="99.2" x2="455.90" y2="102.2" stroke="#1e1e1e" stroke-width="1"/>
<g transform="translate(458.90,107.40) rotate(-45)"><text x="0" y="0" font-size="6.1" text-anchor="end" fill="#262626">1</text></g>
<line x1="472.80" y1="99.2" x2="472.80" y2="102.2" stroke="#1e1e1e" stroke-width="1"/>
<g transform="translate(475.80,107.40) rotate(-45)"><text x="0" y="0" font-size="6.1" text-anchor="end" fill="#262626">10</text></g>
<line x1="489.70" y1="99.2" x2="489.70" y2="102.2" stroke="#1e1e1e" stroke-width="1"/>
<g transform="translate(492.70,107.40) rotate(-45)"><text x="0" y="0" font-size="6.1" text-anchor="end" fill="#262626">100</text></g>
<line x1="506.60" y1="99.2" x2="506.60" y2="102.2" stroke="#1e1e1e" stroke-width="1"/>
<g transform="translate(509.60,107.40) rotate(-45)"><text x="0" y="0" font-size="6.1" text-anchor="end" fill="#262626">1000</text></g>
<rect x="417.5" y="17.7" width="93.80" height="81.50" fill="none" stroke="#1e1e1e" stroke-width="1.15"/>
<line x1="129.3" y1="129.5" x2="129.3" y2="211.2" stroke="#557392" stroke-width="1.05"/>
<line x1="97.5" y1="136.00" x2="100.5" y2="136.00" stroke="#1e1e1e" stroke-width="1"/>
<g transform="translate(103.50,138.30) scale(0.955,1)"><text x="0" y="0" font-size="6.35" fill="#55a652">1.00</text></g>
<line x1="128.9" y1="136.00" x2="129.6" y2="136.00" stroke="#6cb86a" stroke-width="0.9"/>
<line x1="128.9" y1="134.10" x2="128.9" y2="137.90" stroke="#6cb86a" stroke-width="0.8"/>
<line x1="129.6" y1="134.10" x2="129.6" y2="137.90" stroke="#6cb86a" stroke-width="0.8"/>
<circle cx="129.30" cy="136.00" r="1.15" fill="#245a24"/>
<line x1="97.5" y1="144.75" x2="100.5" y2="144.75" stroke="#1e1e1e" stroke-width="1"/>
<g transform="translate(103.50,147.05) scale(0.955,1)"><text x="0" y="0" font-size="6.35" fill="#55a652">0.73</text></g>
<line x1="123.7" y1="144.75" x2="131.8" y2="144.75" stroke="#6cb86a" stroke-width="0.9"/>
<line x1="123.7" y1="142.85" x2="123.7" y2="146.65" stroke="#6cb86a" stroke-width="0.8"/>
<line x1="131.8" y1="142.85" x2="131.8" y2="146.65" stroke="#6cb86a" stroke-width="0.8"/>
<circle cx="127.54" cy="144.75" r="1.15" fill="#245a24"/>
<line x1="97.5" y1="153.50" x2="100.5" y2="153.50" stroke="#1e1e1e" stroke-width="1"/>
<g transform="translate(103.50,155.80) scale(0.955,1)"><text x="0" y="0" font-size="6.35" fill="#6c4a80">1.09</text></g>
<line x1="124.2" y1="153.50" x2="135.2" y2="153.50" stroke="#6a4e7a" stroke-width="0.9"/>
<line x1="124.2" y1="151.60" x2="124.2" y2="155.40" stroke="#6a4e7a" stroke-width="0.8"/>
<line x1="135.2" y1="151.60" x2="135.2" y2="155.40" stroke="#6a4e7a" stroke-width="0.8"/>
<circle cx="129.78" cy="153.50" r="1.15" fill="#2a1030"/>
<line x1="97.5" y1="162.25" x2="100.5" y2="162.25" stroke="#1e1e1e" stroke-width="1"/>
<g transform="translate(103.50,164.55) scale(0.955,1)"><text x="0" y="0" font-size="6.35" fill="#55a652">0.98</text></g>
<line x1="123.4" y1="162.25" x2="135.0" y2="162.25" stroke="#6cb86a" stroke-width="0.9"/>
<line x1="123.4" y1="160.35" x2="123.4" y2="164.15" stroke="#6cb86a" stroke-width="0.8"/>
<line x1="135.0" y1="160.35" x2="135.0" y2="164.15" stroke="#6cb86a" stroke-width="0.8"/>
<circle cx="129.19" cy="162.25" r="1.15" fill="#245a24"/>
<line x1="97.5" y1="171.00" x2="100.5" y2="171.00" stroke="#1e1e1e" stroke-width="1"/>
<g transform="translate(103.50,173.30) scale(0.955,1)"><text x="0" y="0" font-size="6.35" fill="#6c4a80">6.56<tspan font-size="6.4" dx="1.4" dy="0.3" letter-spacing="0.25" fill="#4a4050">***</tspan></text></g>
<line x1="134.4" y1="171.00" x2="145.2" y2="171.00" stroke="#6a4e7a" stroke-width="0.9"/>
<line x1="134.4" y1="169.10" x2="134.4" y2="172.90" stroke="#6a4e7a" stroke-width="0.8"/>
<line x1="145.2" y1="169.10" x2="145.2" y2="172.90" stroke="#6a4e7a" stroke-width="0.8"/>
<circle cx="139.80" cy="171.00" r="1.15" fill="#2a1030"/>
<line x1="97.5" y1="179.75" x2="100.5" y2="179.75" stroke="#1e1e1e" stroke-width="1"/>
<g transform="translate(103.50,182.05) scale(0.955,1)"><text x="0" y="0" font-size="6.35" fill="#6c4a80">1.16</text></g>
<line x1="124.2" y1="179.75" x2="136.7" y2="179.75" stroke="#6a4e7a" stroke-width="0.9"/>
<line x1="124.2" y1="177.85" x2="124.2" y2="181.65" stroke="#6a4e7a" stroke-width="0.8"/>
<line x1="136.7" y1="177.85" x2="136.7" y2="181.65" stroke="#6a4e7a" stroke-width="0.8"/>
<circle cx="130.13" cy="179.75" r="1.15" fill="#2a1030"/>
<line x1="97.5" y1="188.50" x2="100.5" y2="188.50" stroke="#1e1e1e" stroke-width="1"/>
<g transform="translate(103.50,190.80) scale(0.955,1)"><text x="0" y="0" font-size="6.35" fill="#55a652">0.48</text></g>
<line x1="119.9" y1="188.50" x2="130.4" y2="188.50" stroke="#6cb86a" stroke-width="0.9"/>
<line x1="119.9" y1="186.60" x2="119.9" y2="190.40" stroke="#6cb86a" stroke-width="0.8"/>
<line x1="130.4" y1="186.60" x2="130.4" y2="190.40" stroke="#6cb86a" stroke-width="0.8"/>
<circle cx="125.20" cy="188.50" r="1.15" fill="#245a24"/>
<line x1="97.5" y1="197.25" x2="100.5" y2="197.25" stroke="#1e1e1e" stroke-width="1"/>
<g transform="translate(103.50,199.55) scale(0.955,1)"><text x="0" y="0" font-size="6.35" fill="#6c4a80">132.45<tspan font-size="6.4" dx="1.4" dy="0.3" letter-spacing="0.25" fill="#4a4050">***</tspan></text></g>
<line x1="141.7" y1="197.25" x2="171.4" y2="197.25" stroke="#6a4e7a" stroke-width="0.9"/>
<line x1="141.7" y1="195.35" x2="141.7" y2="199.15" stroke="#6a4e7a" stroke-width="0.8"/>
<line x1="171.4" y1="195.35" x2="171.4" y2="199.15" stroke="#6a4e7a" stroke-width="0.8"/>
<circle cx="156.57" cy="197.25" r="1.15" fill="#2a1030"/>
<line x1="97.5" y1="206.00" x2="100.5" y2="206.00" stroke="#1e1e1e" stroke-width="1"/>
<g transform="translate(103.50,208.30) scale(0.955,1)"><text x="0" y="0" font-size="6.35" fill="#6c4a80">1.03</text></g>
<line x1="129.0" y1="206.00" x2="129.8" y2="206.00" stroke="#6a4e7a" stroke-width="0.9"/>
<line x1="129.0" y1="204.10" x2="129.0" y2="207.90" stroke="#6a4e7a" stroke-width="0.8"/>
<line x1="129.8" y1="204.10" x2="129.8" y2="207.90" stroke="#6a4e7a" stroke-width="0.8"/>
<circle cx="129.46" cy="206.00" r="1.15" fill="#2a1030"/>
<g transform="translate(94.30,138.55) scale(0.935,1)"><text x="0" y="0" font-size="6.3" text-anchor="end" fill="#2a2a2a">age</text></g>
<g transform="translate(94.30,147.30) scale(0.935,1)"><text x="0" y="0" font-size="6.3" text-anchor="end" fill="#2a2a2a">sex [m]</text></g>
<g transform="translate(94.30,156.05) scale(0.935,1)"><text x="0" y="0" font-size="6.3" text-anchor="end" fill="#2a2a2a">subgroup [lymphoid]</text></g>
<g transform="translate(94.30,164.80) scale(0.935,1)"><text x="0" y="0" font-size="6.3" text-anchor="end" fill="#2a2a2a">subgroup [myeloid]</text></g>
<g transform="translate(94.30,173.55) scale(0.935,1)"><text x="0" y="0" font-size="6.3" text-anchor="end" fill="#2a2a2a">vaccination [with vector]</text></g>
<g transform="translate(94.30,182.30) scale(0.935,1)"><text x="0" y="0" font-size="6.3" text-anchor="end" fill="#2a2a2a">vaccination [one dose]</text></g>
<g transform="translate(94.30,191.05) scale(0.935,1)"><text x="0" y="0" font-size="6.3" text-anchor="end" fill="#2a2a2a">current treatment [YES]</text></g>
<g transform="translate(94.30,199.80) scale(0.935,1)"><text x="0" y="0" font-size="6.3" text-anchor="end" fill="#2a2a2a">CD4<tspan dx="0.5" dy="-2.7" font-size="4.6">+</tspan><tspan dx="0.3" dy="2.7"> T - cytokine</tspan><tspan dx="0.5" dy="-2.7" font-size="4.6">+</tspan><tspan dx="0.3" dy="2.7"> - CoV2Sc</tspan></text></g>
<g transform="translate(94.30,208.55) scale(0.935,1)"><text x="0" y="0" font-size="6.3" text-anchor="end" fill="#2a2a2a">Spike-specific IgG</text></g>
<line x1="103.60" y1="211.2" x2="103.60" y2="214.2" stroke="#1e1e1e" stroke-width="1"/>
<g transform="translate(106.60,219.40) rotate(-45)"><text x="0" y="0" font-size="6.1" text-anchor="end" fill="#262626">0.01</text></g>
<line x1="116.45" y1="211.2" x2="116.45" y2="214.2" stroke="#1e1e1e" stroke-width="1"/>
<g transform="translate(119.45,219.40) rotate(-45)"><text x="0" y="0" font-size="6.1" text-anchor="end" fill="#262626">0.1</text></g>
<line x1="129.30" y1="211.2" x2="129.30" y2="214.2" stroke="#1e1e1e" stroke-width="1"/>
<g transform="translate(132.30,219.40) rotate(-45)"><text x="0" y="0" font-size="6.1" text-anchor="end" fill="#262626">1</text></g>
<line x1="142.15" y1="211.2" x2="142.15" y2="214.2" stroke="#1e1e1e" stroke-width="1"/>
<g transform="translate(145.15,219.40) rotate(-45)"><text x="0" y="0" font-size="6.1" text-anchor="end" fill="#262626">10</text></g>
<line x1="155.00" y1="211.2" x2="155.00" y2="214.2" stroke="#1e1e1e" stroke-width="1"/>
<g transform="translate(158.00,219.40) rotate(-45)"><text x="0" y="0" font-size="6.1" text-anchor="end" fill="#262626">100</text></g>
<line x1="167.85" y1="211.2" x2="167.85" y2="214.2" stroke="#1e1e1e" stroke-width="1"/>
<g transform="translate(170.85,219.40) rotate(-45)"><text x="0" y="0" font-size="6.1" text-anchor="end" fill="#262626">1000</text></g>
<line x1="180.70" y1="211.2" x2="180.70" y2="214.2" stroke="#1e1e1e" stroke-width="1"/>
<g transform="translate(183.70,219.40) rotate(-45)"><text x="0" y="0" font-size="6.1" text-anchor="end" fill="#262626">10000</text></g>
<rect x="100.5" y="129.5" width="82.70" height="81.70" fill="none" stroke="#1e1e1e" stroke-width="1.15"/>
<line x1="232.7" y1="127.6" x2="232.7" y2="211.2" stroke="#5a7cab" stroke-width="1.05"/>
<line x1="197.2" y1="136.00" x2="200.2" y2="136.00" stroke="#1e1e1e" stroke-width="1"/>
<g transform="translate(203.20,138.30) scale(0.955,1)"><text x="0" y="0" font-size="6.35" fill="#6c4a80">1.01</text></g>
<line x1="232.3" y1="136.00" x2="232.9" y2="136.00" stroke="#6a4e7a" stroke-width="0.9"/>
<line x1="232.3" y1="134.10" x2="232.3" y2="137.90" stroke="#6a4e7a" stroke-width="0.8"/>
<line x1="232.9" y1="134.10" x2="232.9" y2="137.90" stroke="#6a4e7a" stroke-width="0.8"/>
<circle cx="232.56" cy="136.00" r="1.15" fill="#2a1030"/>
<line x1="197.2" y1="144.80" x2="200.2" y2="144.80" stroke="#1e1e1e" stroke-width="1"/>
<g transform="translate(203.20,147.10) scale(0.955,1)"><text x="0" y="0" font-size="6.35" fill="#55a652">0.50</text></g>
<line x1="222.3" y1="144.80" x2="234.5" y2="144.80" stroke="#6cb86a" stroke-width="0.9"/>
<line x1="222.3" y1="142.90" x2="222.3" y2="146.70" stroke="#6cb86a" stroke-width="0.8"/>
<line x1="234.5" y1="142.90" x2="234.5" y2="146.70" stroke="#6cb86a" stroke-width="0.8"/>
<circle cx="228.20" cy="144.80" r="1.15" fill="#245a24"/>
<line x1="197.2" y1="171.20" x2="200.2" y2="171.20" stroke="#1e1e1e" stroke-width="1"/>
<g transform="translate(203.20,173.50) scale(0.955,1)"><text x="0" y="0" font-size="6.35" fill="#6c4a80">4.56<tspan font-size="6.4" dx="1.4" dy="0.3" letter-spacing="0.25" fill="#4a4050">*</tspan></text></g>
<line x1="232.5" y1="171.20" x2="251.4" y2="171.20" stroke="#6a4e7a" stroke-width="0.9"/>
<line x1="232.5" y1="169.30" x2="232.5" y2="173.10" stroke="#6a4e7a" stroke-width="0.8"/>
<line x1="251.4" y1="169.30" x2="251.4" y2="173.10" stroke="#6a4e7a" stroke-width="0.8"/>
<circle cx="241.92" cy="171.20" r="1.15" fill="#2a1030"/>
<line x1="197.2" y1="180.00" x2="200.2" y2="180.00" stroke="#1e1e1e" stroke-width="1"/>
<g transform="translate(203.20,182.30) scale(0.955,1)"><text x="0" y="0" font-size="6.35" fill="#6c4a80">1.43</text></g>
<line x1="227.3" y1="180.00" x2="242.5" y2="180.00" stroke="#6a4e7a" stroke-width="0.9"/>
<line x1="227.3" y1="178.10" x2="227.3" y2="181.90" stroke="#6a4e7a" stroke-width="0.8"/>
<line x1="242.5" y1="178.10" x2="242.5" y2="181.90" stroke="#6a4e7a" stroke-width="0.8"/>
<circle cx="234.72" cy="180.00" r="1.15" fill="#2a1030"/>
<line x1="197.2" y1="197.60" x2="200.2" y2="197.60" stroke="#1e1e1e" stroke-width="1"/>
<g transform="translate(203.20,199.90) scale(0.955,1)"><text x="0" y="0" font-size="6.35" fill="#6c4a80">19.33</text></g>
<line x1="229.7" y1="197.60" x2="272.9" y2="197.60" stroke="#6a4e7a" stroke-width="0.9"/>
<line x1="229.7" y1="195.70" x2="229.7" y2="199.50" stroke="#6a4e7a" stroke-width="0.8"/>
<line x1="272.9" y1="195.70" x2="272.9" y2="199.50" stroke="#6a4e7a" stroke-width="0.8"/>
<circle cx="250.89" cy="197.60" r="1.15" fill="#2a1030"/>
<line x1="197.2" y1="206.40" x2="200.2" y2="206.40" stroke="#1e1e1e" stroke-width="1"/>
<g transform="translate(203.20,208.70) scale(0.955,1)"><text x="0" y="0" font-size="6.35" fill="#6c4a80">1.06</text></g>
<line x1="231.2" y1="206.40" x2="234.4" y2="206.40" stroke="#6a4e7a" stroke-width="0.9"/>
<line x1="231.2" y1="204.50" x2="231.2" y2="208.30" stroke="#6a4e7a" stroke-width="0.8"/>
<line x1="234.4" y1="204.50" x2="234.4" y2="208.30" stroke="#6a4e7a" stroke-width="0.8"/>
<circle cx="232.86" cy="206.40" r="1.15" fill="#2a1030"/>
<line x1="203.90" y1="211.2" x2="203.90" y2="214.2" stroke="#1e1e1e" stroke-width="1"/>
<g transform="translate(206.90,219.40) rotate(-45)"><text x="0" y="0" font-size="6.1" text-anchor="end" fill="#262626">0.01</text></g>
<line x1="218.20" y1="211.2" x2="218.20" y2="214.2" stroke="#1e1e1e" stroke-width="1"/>
<g transform="translate(221.20,219.40) rotate(-45)"><text x="0" y="0" font-size="6.1" text-anchor="end" fill="#262626">0.1</text></g>
<line x1="232.50" y1="211.2" x2="232.50" y2="214.2" stroke="#1e1e1e" stroke-width="1"/>
<g transform="translate(235.50,219.40) rotate(-45)"><text x="0" y="0" font-size="6.1" text-anchor="end" fill="#262626">1</text></g>
<line x1="246.80" y1="211.2" x2="246.80" y2="214.2" stroke="#1e1e1e" stroke-width="1"/>
<g transform="translate(249.80,219.40) rotate(-45)"><text x="0" y="0" font-size="6.1" text-anchor="end" fill="#262626">10</text></g>
<line x1="261.10" y1="211.2" x2="261.10" y2="214.2" stroke="#1e1e1e" stroke-width="1"/>
<g transform="translate(264.10,219.40) rotate(-45)"><text x="0" y="0" font-size="6.1" text-anchor="end" fill="#262626">100</text></g>
<line x1="275.40" y1="211.2" x2="275.40" y2="214.2" stroke="#1e1e1e" stroke-width="1"/>
<g transform="translate(278.40,219.40) rotate(-45)"><text x="0" y="0" font-size="6.1" text-anchor="end" fill="#262626">1000</text></g>
<line x1="289.70" y1="211.2" x2="289.70" y2="214.2" stroke="#1e1e1e" stroke-width="1"/>
<g transform="translate(292.70,219.40) rotate(-45)"><text x="0" y="0" font-size="6.1" text-anchor="end" fill="#262626">10000</text></g>
<rect x="200.2" y="127.6" width="93.10" height="83.60" fill="none" stroke="#1e1e1e" stroke-width="1.15"/>
<line x1="346.4" y1="128.4" x2="346.4" y2="211.2" stroke="#5a7cab" stroke-width="1.05"/>
<line x1="301.2" y1="136.00" x2="304.2" y2="136.00" stroke="#1e1e1e" stroke-width="1"/>
<g transform="translate(307.20,138.30) scale(0.955,1)"><text x="0" y="0" font-size="6.35" fill="#55a652">0.99</text></g>
<line x1="345.6" y1="136.00" x2="346.4" y2="136.00" stroke="#6cb86a" stroke-width="0.9"/>
<line x1="345.6" y1="134.10" x2="345.6" y2="137.90" stroke="#6cb86a" stroke-width="0.8"/>
<line x1="346.4" y1="134.10" x2="346.4" y2="137.90" stroke="#6cb86a" stroke-width="0.8"/>
<circle cx="346.02" cy="136.00" r="1.15" fill="#245a24"/>
<line x1="301.2" y1="144.80" x2="304.2" y2="144.80" stroke="#1e1e1e" stroke-width="1"/>
<g transform="translate(307.20,147.10) scale(0.955,1)"><text x="0" y="0" font-size="6.35" fill="#6c4a80">1.17</text></g>
<line x1="336.0" y1="144.80" x2="359.9" y2="144.80" stroke="#6a4e7a" stroke-width="0.9"/>
<line x1="336.0" y1="142.90" x2="336.0" y2="146.70" stroke="#6a4e7a" stroke-width="0.8"/>
<line x1="359.9" y1="142.90" x2="359.9" y2="146.70" stroke="#6a4e7a" stroke-width="0.8"/>
<circle cx="347.38" cy="144.80" r="1.15" fill="#2a1030"/>
<line x1="301.2" y1="188.80" x2="304.2" y2="188.80" stroke="#1e1e1e" stroke-width="1"/>
<g transform="translate(307.20,191.10) scale(0.955,1)"><text x="0" y="0" font-size="6.35" fill="#55a652">0.62</text></g>
<line x1="331.3" y1="188.80" x2="353.5" y2="188.80" stroke="#6cb86a" stroke-width="0.9"/>
<line x1="331.3" y1="186.90" x2="331.3" y2="190.70" stroke="#6cb86a" stroke-width="0.8"/>
<line x1="353.5" y1="186.90" x2="353.5" y2="190.70" stroke="#6cb86a" stroke-width="0.8"/>
<circle cx="342.21" cy="188.80" r="1.15" fill="#245a24"/>
<line x1="301.2" y1="197.60" x2="304.2" y2="197.60" stroke="#1e1e1e" stroke-width="1"/>
<g transform="translate(307.20,199.90) scale(0.955,1)"><text x="0" y="0" font-size="6.35" fill="#6c4a80">4.78</text></g>
<line x1="338.1" y1="197.60" x2="380.0" y2="197.60" stroke="#6a4e7a" stroke-width="0.9"/>
<line x1="338.1" y1="195.70" x2="338.1" y2="199.50" stroke="#6a4e7a" stroke-width="0.8"/>
<line x1="380.0" y1="195.70" x2="380.0" y2="199.50" stroke="#6a4e7a" stroke-width="0.8"/>
<circle cx="358.84" cy="197.60" r="1.15" fill="#2a1030"/>
<line x1="301.2" y1="206.40" x2="304.2" y2="206.40" stroke="#1e1e1e" stroke-width="1"/>
<g transform="translate(307.20,208.70) scale(0.955,1)"><text x="0" y="0" font-size="6.35" fill="#55a652">0.90</text></g>
<line x1="343.4" y1="206.40" x2="348.7" y2="206.40" stroke="#6cb86a" stroke-width="0.9"/>
<line x1="343.4" y1="204.50" x2="343.4" y2="208.30" stroke="#6cb86a" stroke-width="0.8"/>
<line x1="348.7" y1="204.50" x2="348.7" y2="208.30" stroke="#6cb86a" stroke-width="0.8"/>
<circle cx="345.24" cy="206.40" r="1.15" fill="#245a24"/>
<line x1="308.60" y1="211.2" x2="308.60" y2="214.2" stroke="#1e1e1e" stroke-width="1"/>
<g transform="translate(311.60,219.40) rotate(-45)"><text x="0" y="0" font-size="6.1" text-anchor="end" fill="#262626">0.01</text></g>
<line x1="327.35" y1="211.2" x2="327.35" y2="214.2" stroke="#1e1e1e" stroke-width="1"/>
<g transform="translate(330.35,219.40) rotate(-45)"><text x="0" y="0" font-size="6.1" text-anchor="end" fill="#262626">0.1</text></g>
<line x1="346.10" y1="211.2" x2="346.10" y2="214.2" stroke="#1e1e1e" stroke-width="1"/>
<g transform="translate(349.10,219.40) rotate(-45)"><text x="0" y="0" font-size="6.1" text-anchor="end" fill="#262626">1</text></g>
<line x1="364.85" y1="211.2" x2="364.85" y2="214.2" stroke="#1e1e1e" stroke-width="1"/>
<g transform="translate(367.85,219.40) rotate(-45)"><text x="0" y="0" font-size="6.1" text-anchor="end" fill="#262626">10</text></g>
<line x1="383.60" y1="211.2" x2="383.60" y2="214.2" stroke="#1e1e1e" stroke-width="1"/>
<g transform="translate(386.60,219.40) rotate(-45)"><text x="0" y="0" font-size="6.1" text-anchor="end" fill="#262626">100</text></g>
<line x1="402.35" y1="211.2" x2="402.35" y2="214.2" stroke="#1e1e1e" stroke-width="1"/>
<g transform="translate(405.35,219.40) rotate(-45)"><text x="0" y="0" font-size="6.1" text-anchor="end" fill="#262626">1000</text></g>
<rect x="304.2" y="128.4" width="103.00" height="82.80" fill="none" stroke="#1e1e1e" stroke-width="1.15"/>
<line x1="442.9" y1="129.7" x2="442.9" y2="211.1" stroke="#5a7cab" stroke-width="1.05"/>
<line x1="414.5" y1="138.40" x2="417.5" y2="138.40" stroke="#1e1e1e" stroke-width="1"/>
<g transform="translate(420.50,140.70) scale(0.955,1)"><text x="0" y="0" font-size="6.35" fill="#55a652">0.98</text></g>
<line x1="442.0" y1="138.40" x2="442.6" y2="138.40" stroke="#6cb86a" stroke-width="0.9"/>
<line x1="442.0" y1="136.50" x2="442.0" y2="140.30" stroke="#6cb86a" stroke-width="0.8"/>
<line x1="442.6" y1="136.50" x2="442.6" y2="140.30" stroke="#6cb86a" stroke-width="0.8"/>
<circle cx="442.33" cy="138.40" r="1.15" fill="#245a24"/>
<line x1="414.5" y1="146.97" x2="417.5" y2="146.97" stroke="#1e1e1e" stroke-width="1"/>
<g transform="translate(420.50,149.27) scale(0.955,1)"><text x="0" y="0" font-size="6.35" fill="#55a652">0.52</text></g>
<line x1="435.2" y1="146.97" x2="445.4" y2="146.97" stroke="#6cb86a" stroke-width="0.9"/>
<line x1="435.2" y1="145.07" x2="435.2" y2="148.87" stroke="#6cb86a" stroke-width="0.8"/>
<line x1="445.4" y1="145.07" x2="445.4" y2="148.87" stroke="#6cb86a" stroke-width="0.8"/>
<circle cx="440.01" cy="146.97" r="1.15" fill="#245a24"/>
<line x1="414.5" y1="172.68" x2="417.5" y2="172.68" stroke="#1e1e1e" stroke-width="1"/>
<g transform="translate(420.50,174.98) scale(0.955,1)"><text x="0" y="0" font-size="6.35" fill="#6c4a80">12.71<tspan font-size="6.4" dx="1.4" dy="0.3" letter-spacing="0.25" fill="#4a4050">**</tspan></text></g>
<line x1="446.0" y1="172.68" x2="458.6" y2="172.68" stroke="#6a4e7a" stroke-width="0.9"/>
<line x1="446.0" y1="170.78" x2="446.0" y2="174.58" stroke="#6a4e7a" stroke-width="0.8"/>
<line x1="458.6" y1="170.78" x2="458.6" y2="174.58" stroke="#6a4e7a" stroke-width="0.8"/>
<circle cx="451.67" cy="172.68" r="1.15" fill="#2a1030"/>
<line x1="414.5" y1="181.25" x2="417.5" y2="181.25" stroke="#1e1e1e" stroke-width="1"/>
<g transform="translate(420.50,183.55) scale(0.955,1)"><text x="0" y="0" font-size="6.35" fill="#6c4a80">1.42</text></g>
<line x1="434.4" y1="181.25" x2="453.6" y2="181.25" stroke="#6a4e7a" stroke-width="0.9"/>
<line x1="434.4" y1="179.35" x2="434.4" y2="183.15" stroke="#6a4e7a" stroke-width="0.8"/>
<line x1="453.6" y1="179.35" x2="453.6" y2="183.15" stroke="#6a4e7a" stroke-width="0.8"/>
<circle cx="443.68" cy="181.25" r="1.15" fill="#2a1030"/>
<line x1="414.5" y1="189.82" x2="417.5" y2="189.82" stroke="#1e1e1e" stroke-width="1"/>
<g transform="translate(420.50,192.12) scale(0.955,1)"><text x="0" y="0" font-size="6.35" fill="#55a652">0.26<tspan font-size="6.4" dx="1.4" dy="0.3" letter-spacing="0.25" fill="#4a4050">**</tspan></text></g>
<line x1="436.0" y1="189.82" x2="442.0" y2="189.82" stroke="#6cb86a" stroke-width="0.9"/>
<line x1="436.0" y1="187.92" x2="436.0" y2="191.72" stroke="#6cb86a" stroke-width="0.8"/>
<line x1="442.0" y1="187.92" x2="442.0" y2="191.72" stroke="#6cb86a" stroke-width="0.8"/>
<circle cx="437.49" cy="189.82" r="1.15" fill="#245a24"/>
<line x1="414.5" y1="198.39" x2="417.5" y2="198.39" stroke="#1e1e1e" stroke-width="1"/>
<g transform="translate(420.50,200.69) scale(0.955,1)"><text x="0" y="0" font-size="6.35" fill="#6c4a80">18385.09<tspan font-size="6.4" dx="1.4" dy="0.3" letter-spacing="0.25" fill="#4a4050">**</tspan></text></g>
<line x1="453.0" y1="198.39" x2="503.6" y2="198.39" stroke="#6a4e7a" stroke-width="0.9"/>
<line x1="453.0" y1="196.49" x2="453.0" y2="200.29" stroke="#6a4e7a" stroke-width="0.8"/>
<line x1="503.6" y1="196.49" x2="503.6" y2="200.29" stroke="#6a4e7a" stroke-width="0.8"/>
<circle cx="478.22" cy="198.39" r="1.15" fill="#2a1030"/>
<line x1="414.5" y1="206.96" x2="417.5" y2="206.96" stroke="#1e1e1e" stroke-width="1"/>
<g transform="translate(420.50,209.26) scale(0.955,1)"><text x="0" y="0" font-size="6.35" fill="#55a652">0.98</text></g>
<line x1="442.0" y1="206.96" x2="442.6" y2="206.96" stroke="#6cb86a" stroke-width="0.9"/>
<line x1="442.0" y1="205.06" x2="442.0" y2="208.86" stroke="#6cb86a" stroke-width="0.8"/>
<line x1="442.6" y1="205.06" x2="442.6" y2="208.86" stroke="#6cb86a" stroke-width="0.8"/>
<circle cx="442.33" cy="206.96" r="1.15" fill="#245a24"/>
<line x1="425.60" y1="211.1" x2="425.60" y2="214.1" stroke="#1e1e1e" stroke-width="1"/>
<g transform="translate(428.60,219.30) rotate(-45)"><text x="0" y="0" font-size="6.1" text-anchor="end" fill="#262626">0.01</text></g>
<line x1="442.40" y1="211.1" x2="442.40" y2="214.1" stroke="#1e1e1e" stroke-width="1"/>
<g transform="translate(445.40,219.30) rotate(-45)"><text x="0" y="0" font-size="6.1" text-anchor="end" fill="#262626">1</text></g>
<line x1="459.20" y1="211.1" x2="459.20" y2="214.1" stroke="#1e1e1e" stroke-width="1"/>
<g transform="translate(462.20,219.30) rotate(-45)"><text x="0" y="0" font-size="6.1" text-anchor="end" fill="#262626">100</text></g>
<line x1="476.00" y1="211.1" x2="476.00" y2="214.1" stroke="#1e1e1e" stroke-width="1"/>
<g transform="translate(479.00,219.30) rotate(-45)"><text x="0" y="0" font-size="6.1" text-anchor="end" fill="#262626">10000</text></g>
<line x1="492.80" y1="211.1" x2="492.80" y2="214.1" stroke="#1e1e1e" stroke-width="1"/>
<g transform="translate(495.80,219.30) rotate(-45)"><text x="0" y="0" font-size="6.1" text-anchor="end" fill="#262626">1000000</text></g>
<line x1="509.60" y1="211.1" x2="509.60" y2="214.1" stroke="#1e1e1e" stroke-width="1"/>
<g transform="translate(512.60,219.30) rotate(-45)"><text x="0" y="0" font-size="6.1" text-anchor="end" fill="#262626">100000000</text></g>
<rect x="417.5" y="129.7" width="95.80" height="81.40" fill="none" stroke="#1e1e1e" stroke-width="1.15"/>
<line x1="134.4" y1="253.0" x2="134.4" y2="334.0" stroke="#44526a" stroke-width="1.0"/>
<line x1="97.3" y1="258.90" x2="100.3" y2="258.90" stroke="#1e1e1e" stroke-width="1"/>
<g transform="translate(103.30,261.20) scale(0.955,1)"><text x="0" y="0" font-size="6.35" fill="#55a652">0.97<tspan font-size="6.4" dx="1.4" dy="0.3" letter-spacing="0.25" fill="#4a4050">*</tspan></text></g>
<line x1="133.9" y1="258.90" x2="134.5" y2="258.90" stroke="#6cb86a" stroke-width="0.9"/>
<line x1="133.9" y1="257.00" x2="133.9" y2="260.80" stroke="#6cb86a" stroke-width="0.8"/>
<line x1="134.5" y1="257.00" x2="134.5" y2="260.80" stroke="#6cb86a" stroke-width="0.8"/>
<circle cx="134.20" cy="258.90" r="1.15" fill="#245a24"/>
<line x1="97.3" y1="267.73" x2="100.3" y2="267.73" stroke="#1e1e1e" stroke-width="1"/>
<g transform="translate(103.30,270.03) scale(0.955,1)"><text x="0" y="0" font-size="6.35" fill="#55a652">0.48<tspan font-size="6.4" dx="1.4" dy="0.3" letter-spacing="0.25" fill="#4a4050">*</tspan></text></g>
<line x1="125.4" y1="267.73" x2="133.9" y2="267.73" stroke="#6cb86a" stroke-width="0.9"/>
<line x1="125.4" y1="265.83" x2="125.4" y2="269.63" stroke="#6cb86a" stroke-width="0.8"/>
<line x1="133.9" y1="265.83" x2="133.9" y2="269.63" stroke="#6cb86a" stroke-width="0.8"/>
<circle cx="129.54" cy="267.73" r="1.15" fill="#245a24"/>
<line x1="97.3" y1="276.56" x2="100.3" y2="276.56" stroke="#1e1e1e" stroke-width="1"/>
<g transform="translate(103.30,278.86) scale(0.955,1)"><text x="0" y="0" font-size="6.35" fill="#55a652">0.43</text></g>
<line x1="122.6" y1="276.56" x2="135.5" y2="276.56" stroke="#6cb86a" stroke-width="0.9"/>
<line x1="122.6" y1="274.66" x2="122.6" y2="278.46" stroke="#6cb86a" stroke-width="0.8"/>
<line x1="135.5" y1="274.66" x2="135.5" y2="278.46" stroke="#6cb86a" stroke-width="0.8"/>
<circle cx="128.81" cy="276.56" r="1.15" fill="#245a24"/>
<line x1="97.3" y1="285.39" x2="100.3" y2="285.39" stroke="#1e1e1e" stroke-width="1"/>
<g transform="translate(103.30,287.69) scale(0.955,1)"><text x="0" y="0" font-size="6.35" fill="#6c4a80">1.81</text></g>
<line x1="132.8" y1="285.39" x2="144.4" y2="285.39" stroke="#6a4e7a" stroke-width="0.9"/>
<line x1="132.8" y1="283.49" x2="132.8" y2="287.29" stroke="#6a4e7a" stroke-width="0.8"/>
<line x1="144.4" y1="283.49" x2="144.4" y2="287.29" stroke="#6a4e7a" stroke-width="0.8"/>
<circle cx="138.33" cy="285.39" r="1.15" fill="#2a1030"/>
<line x1="97.3" y1="294.22" x2="100.3" y2="294.22" stroke="#1e1e1e" stroke-width="1"/>
<g transform="translate(103.30,296.52) scale(0.955,1)"><text x="0" y="0" font-size="6.35" fill="#6c4a80">1.27</text></g>
<line x1="129.9" y1="294.22" x2="142.3" y2="294.22" stroke="#6a4e7a" stroke-width="0.9"/>
<line x1="129.9" y1="292.32" x2="129.9" y2="296.12" stroke="#6a4e7a" stroke-width="0.8"/>
<line x1="142.3" y1="292.32" x2="142.3" y2="296.12" stroke="#6a4e7a" stroke-width="0.8"/>
<circle cx="135.98" cy="294.22" r="1.15" fill="#2a1030"/>
<line x1="97.3" y1="303.05" x2="100.3" y2="303.05" stroke="#1e1e1e" stroke-width="1"/>
<g transform="translate(103.30,305.35) scale(0.955,1)"><text x="0" y="0" font-size="6.35" fill="#55a652">0.32<tspan font-size="6.4" dx="1.4" dy="0.3" letter-spacing="0.25" fill="#4a4050">*</tspan></text></g>
<line x1="120.5" y1="303.05" x2="133.9" y2="303.05" stroke="#6cb86a" stroke-width="0.9"/>
<line x1="120.5" y1="301.15" x2="120.5" y2="304.95" stroke="#6cb86a" stroke-width="0.8"/>
<line x1="133.9" y1="301.15" x2="133.9" y2="304.95" stroke="#6cb86a" stroke-width="0.8"/>
<circle cx="126.85" cy="303.05" r="1.15" fill="#245a24"/>
<line x1="97.3" y1="311.88" x2="100.3" y2="311.88" stroke="#1e1e1e" stroke-width="1"/>
<g transform="translate(103.30,314.18) scale(0.955,1)"><text x="0" y="0" font-size="6.35" fill="#55a652">0.42<tspan font-size="6.4" dx="1.4" dy="0.3" letter-spacing="0.25" fill="#4a4050">*</tspan></text></g>
<line x1="123.4" y1="311.88" x2="133.9" y2="311.88" stroke="#6cb86a" stroke-width="0.9"/>
<line x1="123.4" y1="309.98" x2="123.4" y2="313.78" stroke="#6cb86a" stroke-width="0.8"/>
<line x1="133.9" y1="309.98" x2="133.9" y2="313.78" stroke="#6cb86a" stroke-width="0.8"/>
<circle cx="128.65" cy="311.88" r="1.15" fill="#245a24"/>
<line x1="97.3" y1="320.71" x2="100.3" y2="320.71" stroke="#1e1e1e" stroke-width="1"/>
<g transform="translate(103.30,323.01) scale(0.955,1)"><text x="0" y="0" font-size="6.35" fill="#55a652">1.00</text></g>
<line x1="134.1" y1="320.71" x2="134.6" y2="320.71" stroke="#6cb86a" stroke-width="0.9"/>
<line x1="134.1" y1="318.81" x2="134.1" y2="322.61" stroke="#6cb86a" stroke-width="0.8"/>
<line x1="134.6" y1="318.81" x2="134.6" y2="322.61" stroke="#6cb86a" stroke-width="0.8"/>
<circle cx="134.40" cy="320.71" r="1.15" fill="#245a24"/>
<line x1="97.3" y1="329.54" x2="100.3" y2="329.54" stroke="#1e1e1e" stroke-width="1"/>
<g transform="translate(103.30,331.84) scale(0.955,1)"><text x="0" y="0" font-size="6.35" fill="#6c4a80">9.52<tspan font-size="6.4" dx="1.4" dy="0.3" letter-spacing="0.25" fill="#4a4050">*</tspan></text></g>
<line x1="136.3" y1="329.54" x2="162.2" y2="329.54" stroke="#6a4e7a" stroke-width="0.9"/>
<line x1="136.3" y1="327.64" x2="136.3" y2="331.44" stroke="#6a4e7a" stroke-width="0.8"/>
<line x1="162.2" y1="327.64" x2="162.2" y2="331.44" stroke="#6a4e7a" stroke-width="0.8"/>
<circle cx="149.32" cy="329.54" r="1.15" fill="#2a1030"/>
<g transform="translate(94.10,261.45) scale(0.935,1)"><text x="0" y="0" font-size="6.3" text-anchor="end" fill="#2a2a2a">age</text></g>
<g transform="translate(94.10,270.28) scale(0.935,1)"><text x="0" y="0" font-size="6.3" text-anchor="end" fill="#2a2a2a">sex [m]</text></g>
<g transform="translate(94.10,279.11) scale(0.935,1)"><text x="0" y="0" font-size="6.3" text-anchor="end" fill="#2a2a2a">subgroup [lymphoid]</text></g>
<g transform="translate(94.10,287.94) scale(0.935,1)"><text x="0" y="0" font-size="6.3" text-anchor="end" fill="#2a2a2a">subgroup [myeloid]</text></g>
<g transform="translate(94.10,296.77) scale(0.935,1)"><text x="0" y="0" font-size="6.3" text-anchor="end" fill="#2a2a2a">vaccination [with vector]</text></g>
<g transform="translate(94.10,305.60) scale(0.935,1)"><text x="0" y="0" font-size="6.3" text-anchor="end" fill="#2a2a2a">vaccination [one dose]</text></g>
<g transform="translate(94.10,314.43) scale(0.935,1)"><text x="0" y="0" font-size="6.3" text-anchor="end" fill="#2a2a2a">current treatment [YES]</text></g>
<g transform="translate(94.10,323.26) scale(0.935,1)"><text x="0" y="0" font-size="6.3" text-anchor="end" fill="#2a2a2a">B cells</text></g>
<g transform="translate(94.10,332.09) scale(0.935,1)"><text x="0" y="0" font-size="6.3" text-anchor="end" fill="#2a2a2a">CD4<tspan dx="0.5" dy="-2.7" font-size="4.6">+</tspan><tspan dx="0.3" dy="2.7"> T - cytokine</tspan><tspan dx="0.5" dy="-2.7" font-size="4.6">+</tspan><tspan dx="0.3" dy="2.7"> - CoV2Sc</tspan></text></g>
<line x1="103.90" y1="334.0" x2="103.90" y2="337.0" stroke="#1e1e1e" stroke-width="1"/>
<g transform="translate(106.90,342.20) rotate(-45)"><text x="0" y="0" font-size="6.1" text-anchor="end" fill="#262626">0.01</text></g>
<line x1="119.15" y1="334.0" x2="119.15" y2="337.0" stroke="#1e1e1e" stroke-width="1"/>
<g transform="translate(122.15,342.20) rotate(-45)"><text x="0" y="0" font-size="6.1" text-anchor="end" fill="#262626">0.1</text></g>
<line x1="134.40" y1="334.0" x2="134.40" y2="337.0" stroke="#1e1e1e" stroke-width="1"/>
<g transform="translate(137.40,342.20) rotate(-45)"><text x="0" y="0" font-size="6.1" text-anchor="end" fill="#262626">1</text></g>
<line x1="149.65" y1="334.0" x2="149.65" y2="337.0" stroke="#1e1e1e" stroke-width="1"/>
<g transform="translate(152.65,342.20) rotate(-45)"><text x="0" y="0" font-size="6.1" text-anchor="end" fill="#262626">10</text></g>
<line x1="164.90" y1="334.0" x2="164.90" y2="337.0" stroke="#1e1e1e" stroke-width="1"/>
<g transform="translate(167.90,342.20) rotate(-45)"><text x="0" y="0" font-size="6.1" text-anchor="end" fill="#262626">100</text></g>
<line x1="180.15" y1="334.0" x2="180.15" y2="337.0" stroke="#1e1e1e" stroke-width="1"/>
<g transform="translate(183.15,342.20) rotate(-45)"><text x="0" y="0" font-size="6.1" text-anchor="end" fill="#262626">1000</text></g>
<rect x="100.3" y="253.0" width="83.10" height="81.00" fill="none" stroke="#1e1e1e" stroke-width="1.15"/>
<line x1="238.0" y1="251.8" x2="238.0" y2="334.3" stroke="#5a7cab" stroke-width="1.05"/>
<line x1="197.4" y1="259.60" x2="200.4" y2="259.60" stroke="#1e1e1e" stroke-width="1"/>
<g transform="translate(203.40,261.90) scale(0.955,1)"><text x="0" y="0" font-size="6.35" fill="#55a652">0.99</text></g>
<line x1="237.6" y1="259.60" x2="238.1" y2="259.60" stroke="#6cb86a" stroke-width="0.9"/>
<line x1="237.6" y1="257.70" x2="237.6" y2="261.50" stroke="#6cb86a" stroke-width="0.8"/>
<line x1="238.1" y1="257.70" x2="238.1" y2="261.50" stroke="#6cb86a" stroke-width="0.8"/>
<circle cx="237.86" cy="259.60" r="1.15" fill="#245a24"/>
<line x1="197.4" y1="268.45" x2="200.4" y2="268.45" stroke="#1e1e1e" stroke-width="1"/>
<g transform="translate(203.40,270.75) scale(0.955,1)"><text x="0" y="0" font-size="6.35" fill="#55a652">0.37</text></g>
<line x1="230.6" y1="268.45" x2="237.3" y2="268.45" stroke="#6cb86a" stroke-width="0.9"/>
<line x1="230.6" y1="266.55" x2="230.6" y2="270.35" stroke="#6cb86a" stroke-width="0.8"/>
<line x1="237.3" y1="266.55" x2="237.3" y2="270.35" stroke="#6cb86a" stroke-width="0.8"/>
<circle cx="234.26" cy="268.45" r="1.15" fill="#245a24"/>
<line x1="197.4" y1="295.00" x2="200.4" y2="295.00" stroke="#1e1e1e" stroke-width="1"/>
<g transform="translate(203.40,297.30) scale(0.955,1)"><text x="0" y="0" font-size="6.35" fill="#55a652">0.95</text></g>
<line x1="231.6" y1="295.00" x2="244.0" y2="295.00" stroke="#6cb86a" stroke-width="0.9"/>
<line x1="231.6" y1="293.10" x2="231.6" y2="296.90" stroke="#6cb86a" stroke-width="0.8"/>
<line x1="244.0" y1="293.10" x2="244.0" y2="296.90" stroke="#6cb86a" stroke-width="0.8"/>
<circle cx="237.71" cy="295.00" r="1.15" fill="#245a24"/>
<line x1="197.4" y1="303.85" x2="200.4" y2="303.85" stroke="#1e1e1e" stroke-width="1"/>
<g transform="translate(203.40,306.15) scale(0.955,1)"><text x="0" y="0" font-size="6.35" fill="#55a652">0.09<tspan font-size="6.4" dx="1.4" dy="0.3" letter-spacing="0.25" fill="#4a4050">**</tspan></text></g>
<line x1="222.5" y1="303.85" x2="235.4" y2="303.85" stroke="#6cb86a" stroke-width="0.9"/>
<line x1="222.5" y1="301.95" x2="222.5" y2="305.75" stroke="#6cb86a" stroke-width="0.8"/>
<line x1="235.4" y1="301.95" x2="235.4" y2="305.75" stroke="#6cb86a" stroke-width="0.8"/>
<circle cx="229.09" cy="303.85" r="1.15" fill="#245a24"/>
<line x1="197.4" y1="321.55" x2="200.4" y2="321.55" stroke="#1e1e1e" stroke-width="1"/>
<g transform="translate(203.40,323.85) scale(0.955,1)"><text x="0" y="0" font-size="6.35" fill="#6c4a80">1.00</text></g>
<line x1="237.7" y1="321.55" x2="238.1" y2="321.55" stroke="#6a4e7a" stroke-width="0.9"/>
<line x1="237.7" y1="319.65" x2="237.7" y2="323.45" stroke="#6a4e7a" stroke-width="0.8"/>
<line x1="238.1" y1="319.65" x2="238.1" y2="323.45" stroke="#6a4e7a" stroke-width="0.8"/>
<circle cx="237.90" cy="321.55" r="1.15" fill="#2a1030"/>
<line x1="197.4" y1="330.40" x2="200.4" y2="330.40" stroke="#1e1e1e" stroke-width="1"/>
<g transform="translate(203.40,332.70) scale(0.955,1)"><text x="0" y="0" font-size="6.35" fill="#6c4a80">780.74<tspan font-size="6.4" dx="1.4" dy="0.3" letter-spacing="0.25" fill="#4a4050">**</tspan></text></g>
<line x1="243.1" y1="330.40" x2="281.2" y2="330.40" stroke="#6a4e7a" stroke-width="0.9"/>
<line x1="243.1" y1="328.50" x2="243.1" y2="332.30" stroke="#6a4e7a" stroke-width="0.8"/>
<line x1="281.2" y1="328.50" x2="281.2" y2="332.30" stroke="#6a4e7a" stroke-width="0.8"/>
<circle cx="262.25" cy="330.40" r="1.15" fill="#2a1030"/>
<line x1="204.22" y1="334.3" x2="204.22" y2="337.3" stroke="#1e1e1e" stroke-width="1"/>
<g transform="translate(207.22,342.50) rotate(-45)"><text x="0" y="0" font-size="6.1" text-anchor="end" fill="#262626">0.0001</text></g>
<line x1="221.06" y1="334.3" x2="221.06" y2="337.3" stroke="#1e1e1e" stroke-width="1"/>
<g transform="translate(224.06,342.50) rotate(-45)"><text x="0" y="0" font-size="6.1" text-anchor="end" fill="#262626">0.01</text></g>
<line x1="237.90" y1="334.3" x2="237.90" y2="337.3" stroke="#1e1e1e" stroke-width="1"/>
<g transform="translate(240.90,342.50) rotate(-45)"><text x="0" y="0" font-size="6.1" text-anchor="end" fill="#262626">1</text></g>
<line x1="254.74" y1="334.3" x2="254.74" y2="337.3" stroke="#1e1e1e" stroke-width="1"/>
<g transform="translate(257.74,342.50) rotate(-45)"><text x="0" y="0" font-size="6.1" text-anchor="end" fill="#262626">100</text></g>
<line x1="271.58" y1="334.3" x2="271.58" y2="337.3" stroke="#1e1e1e" stroke-width="1"/>
<g transform="translate(274.58,342.50) rotate(-45)"><text x="0" y="0" font-size="6.1" text-anchor="end" fill="#262626">10000</text></g>
<line x1="288.42" y1="334.3" x2="288.42" y2="337.3" stroke="#1e1e1e" stroke-width="1"/>
<g transform="translate(291.42,342.50) rotate(-45)"><text x="0" y="0" font-size="6.1" text-anchor="end" fill="#262626">1000000</text></g>
<rect x="200.4" y="251.8" width="92.40" height="82.50" fill="none" stroke="#1e1e1e" stroke-width="1.15"/>
<line x1="355.0" y1="253.3" x2="355.0" y2="334.2" stroke="#5a7cab" stroke-width="1.05"/>
<line x1="301.5" y1="260.80" x2="304.5" y2="260.80" stroke="#1e1e1e" stroke-width="1"/>
<g transform="translate(307.50,263.10) scale(0.955,1)"><text x="0" y="0" font-size="6.35" fill="#55a652">0.96<tspan font-size="6.4" dx="1.4" dy="0.3" letter-spacing="0.25" fill="#4a4050">*</tspan></text></g>
<line x1="353.8" y1="260.80" x2="355.0" y2="260.80" stroke="#6cb86a" stroke-width="0.9"/>
<line x1="353.8" y1="258.90" x2="353.8" y2="262.70" stroke="#6cb86a" stroke-width="0.8"/>
<line x1="355.0" y1="258.90" x2="355.0" y2="262.70" stroke="#6cb86a" stroke-width="0.8"/>
<circle cx="354.19" cy="260.80" r="1.15" fill="#245a24"/>
<line x1="301.5" y1="269.58" x2="304.5" y2="269.58" stroke="#1e1e1e" stroke-width="1"/>
<g transform="translate(307.50,271.88) scale(0.955,1)"><text x="0" y="0" font-size="6.35" fill="#55a652">0.65</text></g>
<line x1="334.3" y1="269.58" x2="367.3" y2="269.58" stroke="#6cb86a" stroke-width="0.9"/>
<line x1="334.3" y1="267.68" x2="334.3" y2="271.48" stroke="#6cb86a" stroke-width="0.8"/>
<line x1="367.3" y1="267.68" x2="367.3" y2="271.48" stroke="#6cb86a" stroke-width="0.8"/>
<circle cx="350.30" cy="269.58" r="1.15" fill="#245a24"/>
<line x1="301.5" y1="313.48" x2="304.5" y2="313.48" stroke="#1e1e1e" stroke-width="1"/>
<g transform="translate(307.50,315.78) scale(0.955,1)"><text x="0" y="0" font-size="6.35" fill="#55a652">0.35</text></g>
<line x1="329.0" y1="313.48" x2="360.3" y2="313.48" stroke="#6cb86a" stroke-width="0.9"/>
<line x1="329.0" y1="311.58" x2="329.0" y2="315.38" stroke="#6cb86a" stroke-width="0.8"/>
<line x1="360.3" y1="311.58" x2="360.3" y2="315.38" stroke="#6cb86a" stroke-width="0.8"/>
<circle cx="344.11" cy="313.48" r="1.15" fill="#245a24"/>
<line x1="301.5" y1="322.26" x2="304.5" y2="322.26" stroke="#1e1e1e" stroke-width="1"/>
<g transform="translate(307.50,324.56) scale(0.955,1)"><text x="0" y="0" font-size="6.35" fill="#6c4a80">1.00</text></g>
<line x1="354.4" y1="322.26" x2="354.8" y2="322.26" stroke="#6a4e7a" stroke-width="0.9"/>
<line x1="354.4" y1="320.36" x2="354.4" y2="324.16" stroke="#6a4e7a" stroke-width="0.8"/>
<line x1="354.8" y1="320.36" x2="354.8" y2="324.16" stroke="#6a4e7a" stroke-width="0.8"/>
<circle cx="354.60" cy="322.26" r="1.15" fill="#2a1030"/>
<line x1="301.5" y1="331.04" x2="304.5" y2="331.04" stroke="#1e1e1e" stroke-width="1"/>
<g transform="translate(307.50,333.34) scale(0.955,1)"><text x="0" y="0" font-size="6.35" fill="#55a652">0.88</text></g>
<line x1="330.7" y1="331.04" x2="376.6" y2="331.04" stroke="#6cb86a" stroke-width="0.9"/>
<line x1="330.7" y1="329.14" x2="330.7" y2="332.94" stroke="#6cb86a" stroke-width="0.8"/>
<line x1="376.6" y1="329.14" x2="376.6" y2="332.94" stroke="#6cb86a" stroke-width="0.8"/>
<circle cx="353.32" cy="331.04" r="1.15" fill="#245a24"/>
<line x1="308.60" y1="334.2" x2="308.60" y2="337.2" stroke="#1e1e1e" stroke-width="1"/>
<g transform="translate(311.60,342.40) rotate(-45)"><text x="0" y="0" font-size="6.1" text-anchor="end" fill="#262626">0.01</text></g>
<line x1="331.60" y1="334.2" x2="331.60" y2="337.2" stroke="#1e1e1e" stroke-width="1"/>
<g transform="translate(334.60,342.40) rotate(-45)"><text x="0" y="0" font-size="6.1" text-anchor="end" fill="#262626">0.1</text></g>
<line x1="354.60" y1="334.2" x2="354.60" y2="337.2" stroke="#1e1e1e" stroke-width="1"/>
<g transform="translate(357.60,342.40) rotate(-45)"><text x="0" y="0" font-size="6.1" text-anchor="end" fill="#262626">1</text></g>
<line x1="377.60" y1="334.2" x2="377.60" y2="337.2" stroke="#1e1e1e" stroke-width="1"/>
<g transform="translate(380.60,342.40) rotate(-45)"><text x="0" y="0" font-size="6.1" text-anchor="end" fill="#262626">10</text></g>
<line x1="400.60" y1="334.2" x2="400.60" y2="337.2" stroke="#1e1e1e" stroke-width="1"/>
<g transform="translate(403.60,342.40) rotate(-45)"><text x="0" y="0" font-size="6.1" text-anchor="end" fill="#262626">100</text></g>
<rect x="304.5" y="253.3" width="100.90" height="80.90" fill="none" stroke="#1e1e1e" stroke-width="1.15"/>
<line x1="438.4" y1="253.6" x2="438.4" y2="334.5" stroke="#5a7cab" stroke-width="1.05"/>
<line x1="414.6" y1="260.80" x2="417.6" y2="260.80" stroke="#1e1e1e" stroke-width="1"/>
<g transform="translate(420.60,263.10) scale(0.955,1)"><text x="0" y="0" font-size="6.35" fill="#55a652">0.97</text></g>
<circle cx="438.29" cy="260.80" r="1.15" fill="#245a24"/>
<line x1="414.6" y1="269.65" x2="417.6" y2="269.65" stroke="#1e1e1e" stroke-width="1"/>
<g transform="translate(420.60,271.95) scale(0.955,1)"><text x="0" y="0" font-size="6.35" fill="#55a652">0.75</text></g>
<line x1="436.4" y1="269.65" x2="441.6" y2="269.65" stroke="#6cb86a" stroke-width="0.9"/>
<line x1="436.4" y1="267.75" x2="436.4" y2="271.55" stroke="#6cb86a" stroke-width="0.8"/>
<line x1="441.6" y1="267.75" x2="441.6" y2="271.55" stroke="#6cb86a" stroke-width="0.8"/>
<circle cx="437.37" cy="269.65" r="1.15" fill="#245a24"/>
<line x1="414.6" y1="296.20" x2="417.6" y2="296.20" stroke="#1e1e1e" stroke-width="1"/>
<g transform="translate(420.60,298.50) scale(0.955,1)"><text x="0" y="0" font-size="6.35" fill="#6c4a80">1.20</text></g>
<line x1="433.4" y1="296.20" x2="444.4" y2="296.20" stroke="#6a4e7a" stroke-width="0.9"/>
<line x1="433.4" y1="294.30" x2="433.4" y2="298.10" stroke="#6a4e7a" stroke-width="0.8"/>
<line x1="444.4" y1="294.30" x2="444.4" y2="298.10" stroke="#6a4e7a" stroke-width="0.8"/>
<circle cx="439.05" cy="296.20" r="1.15" fill="#2a1030"/>
<line x1="414.6" y1="305.05" x2="417.6" y2="305.05" stroke="#1e1e1e" stroke-width="1"/>
<g transform="translate(420.60,307.35) scale(0.955,1)"><text x="0" y="0" font-size="6.35" fill="#6c4a80">1.44</text></g>
<line x1="433.4" y1="305.05" x2="447.0" y2="305.05" stroke="#6a4e7a" stroke-width="0.9"/>
<line x1="433.4" y1="303.15" x2="433.4" y2="306.95" stroke="#6a4e7a" stroke-width="0.8"/>
<line x1="447.0" y1="303.15" x2="447.0" y2="306.95" stroke="#6a4e7a" stroke-width="0.8"/>
<circle cx="439.71" cy="305.05" r="1.15" fill="#2a1030"/>
<line x1="414.6" y1="313.90" x2="417.6" y2="313.90" stroke="#1e1e1e" stroke-width="1"/>
<g transform="translate(420.60,316.20) scale(0.955,1)"><text x="0" y="0" font-size="6.35" fill="#55a652">0.47</text></g>
<line x1="435.0" y1="313.90" x2="439.4" y2="313.90" stroke="#6cb86a" stroke-width="0.9"/>
<line x1="435.0" y1="312.00" x2="435.0" y2="315.80" stroke="#6cb86a" stroke-width="0.8"/>
<line x1="439.4" y1="312.00" x2="439.4" y2="315.80" stroke="#6cb86a" stroke-width="0.8"/>
<circle cx="435.69" cy="313.90" r="1.15" fill="#245a24"/>
<line x1="414.6" y1="322.75" x2="417.6" y2="322.75" stroke="#1e1e1e" stroke-width="1"/>
<g transform="translate(420.60,325.05) scale(0.955,1)"><text x="0" y="0" font-size="6.35" fill="#6c4a80">1.00</text></g>
<line x1="438.2" y1="322.75" x2="438.6" y2="322.75" stroke="#6a4e7a" stroke-width="0.9"/>
<line x1="438.2" y1="320.85" x2="438.2" y2="324.65" stroke="#6a4e7a" stroke-width="0.8"/>
<line x1="438.6" y1="320.85" x2="438.6" y2="324.65" stroke="#6a4e7a" stroke-width="0.8"/>
<circle cx="438.40" cy="322.75" r="1.15" fill="#2a1030"/>
<line x1="414.6" y1="331.60" x2="417.6" y2="331.60" stroke="#1e1e1e" stroke-width="1"/>
<g transform="translate(420.60,333.90) scale(0.955,1)"><text x="0" y="0" font-size="6.35" fill="#6c4a80">19498.49<tspan font-size="6.4" dx="1.4" dy="0.3" letter-spacing="0.25" fill="#4a4050">***</tspan></text></g>
<line x1="449.0" y1="331.60" x2="500.0" y2="331.60" stroke="#6a4e7a" stroke-width="0.9"/>
<line x1="449.0" y1="329.70" x2="449.0" y2="333.50" stroke="#6a4e7a" stroke-width="0.8"/>
<line x1="500.0" y1="329.70" x2="500.0" y2="333.50" stroke="#6a4e7a" stroke-width="0.8"/>
<circle cx="473.79" cy="331.60" r="1.15" fill="#2a1030"/>
<line x1="421.90" y1="334.5" x2="421.90" y2="337.5" stroke="#1e1e1e" stroke-width="1"/>
<g transform="translate(424.90,342.70) rotate(-45)"><text x="0" y="0" font-size="6.1" text-anchor="end" fill="#262626">0.01</text></g>
<line x1="438.40" y1="334.5" x2="438.40" y2="337.5" stroke="#1e1e1e" stroke-width="1"/>
<g transform="translate(441.40,342.70) rotate(-45)"><text x="0" y="0" font-size="6.1" text-anchor="end" fill="#262626">1</text></g>
<line x1="454.90" y1="334.5" x2="454.90" y2="337.5" stroke="#1e1e1e" stroke-width="1"/>
<g transform="translate(457.90,342.70) rotate(-45)"><text x="0" y="0" font-size="6.1" text-anchor="end" fill="#262626">100</text></g>
<line x1="471.40" y1="334.5" x2="471.40" y2="337.5" stroke="#1e1e1e" stroke-width="1"/>
<g transform="translate(474.40,342.70) rotate(-45)"><text x="0" y="0" font-size="6.1" text-anchor="end" fill="#262626">10000</text></g>
<line x1="487.90" y1="334.5" x2="487.90" y2="337.5" stroke="#1e1e1e" stroke-width="1"/>
<g transform="translate(490.90,342.70) rotate(-45)"><text x="0" y="0" font-size="6.1" text-anchor="end" fill="#262626">1000000</text></g>
<line x1="504.40" y1="334.5" x2="504.40" y2="337.5" stroke="#1e1e1e" stroke-width="1"/>
<g transform="translate(507.40,342.70) rotate(-45)"><text x="0" y="0" font-size="6.1" text-anchor="end" fill="#262626">100000000</text></g>
<rect x="417.6" y="253.6" width="91.90" height="80.90" fill="none" stroke="#1e1e1e" stroke-width="1.15"/>
<rect x="0.5" y="0.5" width="519" height="380" fill="none" stroke="#555" stroke-width="1"/>
</svg>
</body></html>
